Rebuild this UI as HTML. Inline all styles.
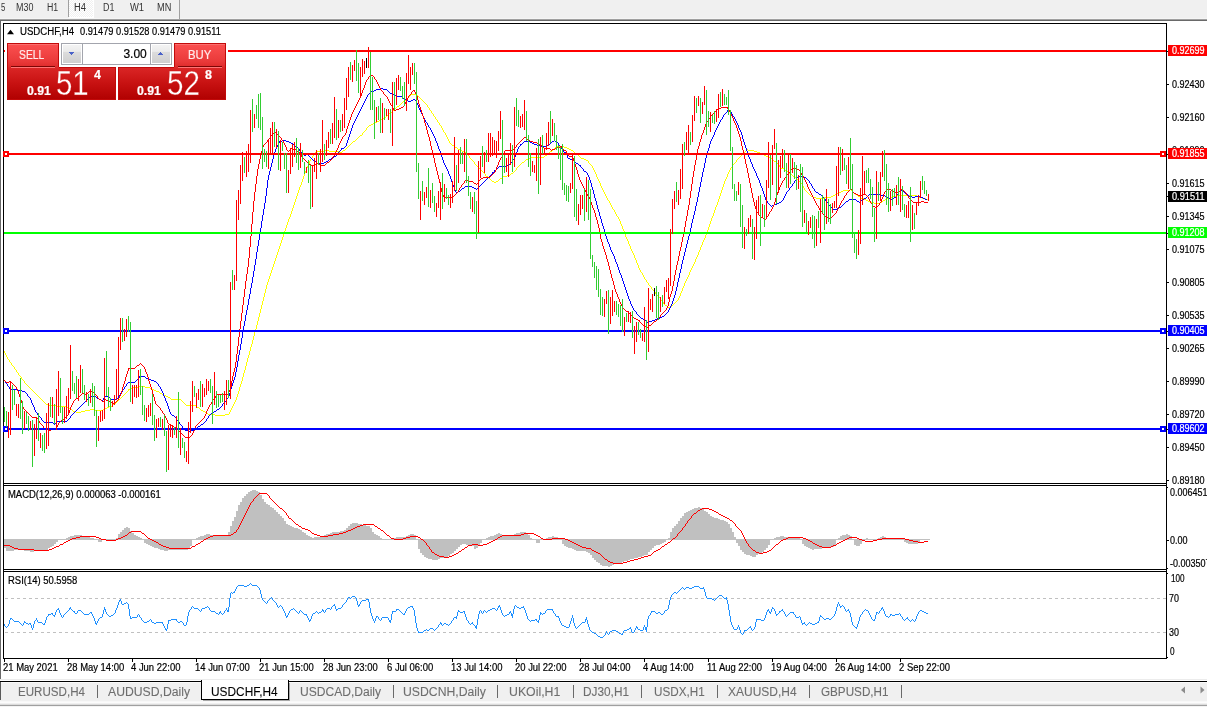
<!DOCTYPE html>
<html lang="en"><head><meta charset="utf-8"><title>USDCHF,H4</title>
<style>
html,body{margin:0;padding:0;background:#fff;}
body{width:1207px;height:707px;overflow:hidden;position:relative;font-family:"Liberation Sans",sans-serif;}
.t{position:absolute;white-space:pre;display:block;transform-origin:0 0;-webkit-text-stroke:0.2px currentColor;}
.b{position:absolute;}
svg{position:absolute;left:0;top:0;}
.big{-webkit-text-stroke:0.35px #cf1c1c;}
#tabs .t{-webkit-text-stroke:0.1px currentColor;}
</style></head><body>

<div id="toolbar">
<div class="b" style="left:0px;top:0px;width:1207px;height:18px;background:#f0f0f0;"></div>
<div class="b" style="left:0px;top:18px;width:1207px;height:1px;background:#f5f5f5;"></div>
<div class="b" style="left:0px;top:19px;width:1207px;height:1px;background:#a0a0a0;"></div>
<div class="b" style="left:0px;top:20px;width:1207px;height:1px;background:#696969;"></div>
<div class="b" style="left:69px;top:0px;width:25px;height:18px;background:#fff;"></div>
<div class="b" style="left:69px;top:0px;width:24px;height:17px;background:repeating-conic-gradient(#ffffff 0% 25%, #f0f0f0 0% 50%) 0 0/2px 2px;"></div>
<div class="b" style="left:68px;top:0px;width:1px;height:17px;background:#a0a0a0;"></div>
<div class="b" style="left:179px;top:0px;width:1px;height:19px;background:#a0a0a0;"></div>
<span class="t " style="left:0.70px;top:3px;font-size:10px;line-height:10px;color:#333;transform:scaleX(0.7857);-webkit-text-stroke:0;">5</span>
<span class="t " style="left:15.70px;top:3px;font-size:10px;line-height:10px;color:#333;transform:scaleX(0.8923);-webkit-text-stroke:0;">M30</span>
<span class="t " style="left:46.80px;top:3px;font-size:10px;line-height:10px;color:#333;transform:scaleX(0.8750);-webkit-text-stroke:0;">H1</span>
<span class="t " style="left:73.70px;top:3px;font-size:10px;line-height:10px;color:#333;transform:scaleX(0.9375);-webkit-text-stroke:0;">H4</span>
<span class="t " style="left:102.80px;top:3px;font-size:10px;line-height:10px;color:#333;transform:scaleX(0.8906);-webkit-text-stroke:0;">D1</span>
<span class="t " style="left:130.20px;top:3px;font-size:10px;line-height:10px;color:#333;transform:scaleX(0.9400);-webkit-text-stroke:0;">W1</span>
<span class="t " style="left:156.90px;top:3px;font-size:10px;line-height:10px;color:#333;transform:scaleX(0.9167);-webkit-text-stroke:0;">MN</span>
</div>
<div class="b" style="left:0px;top:20px;width:1px;height:659px;background:#696969;"></div>
<svg id="chart" width="1207" height="707" viewBox="0 0 1207 707">
<path d="M4 351h1v2h-1zM5 353h1v2h-1zM6 355h1v2h-1zM7 357h1v2h-1zM8 359h1v1h-1zM9 360h1v2h-1zM10 362h1v1h-1zM11 363h1v2h-1zM12 365h1v1h-1zM13 366h1v1h-1zM14 367h1v2h-1zM15 369h1v1h-1zM16 370h1v2h-1zM17 372h1v1h-1zM18 373h1v2h-1zM19 375h1v1h-1zM20 376h1v1h-1zM21 377h1v2h-1zM22 379h1v1h-1zM23 380h1v1h-1zM24 381h1v2h-1zM25 383h1v1h-1zM26 384h1v1h-1zM27 385h1v1h-1zM28 386h1v1h-1zM29 387h1v1h-1zM30 388h1v1h-1zM31 389h1v1h-1zM32 390h1v1h-1zM33 391h1v1h-1zM34 392h1v1h-1zM35 393h1v1h-1zM36 394h1v1h-1zM37 395h1v1h-1zM38 396h1v1h-1zM39 397h1v1h-1zM40 398h1v1h-1zM41 399h1v1h-1zM42 400h1v1h-1zM43 401h1v1h-1zM44 402h1v1h-1zM45 403h1v1h-1zM46 404h2v1h-2zM48 405h9v1h-9zM57 406h9v1h-9zM66 407h3v1h-3zM69 408h1v1h-1zM70 409h2v1h-2zM72 410h1v1h-1zM73 411h3v1h-3zM76 412h5v1h-5zM81 411h4v1h-4zM85 410h5v1h-5zM90 409h5v1h-5zM95 410h8v1h-8zM103 409h2v1h-2zM105 408h2v1h-2zM107 407h2v1h-2zM109 406h3v1h-3zM112 405h1v1h-1zM113 404h1v1h-1zM114 403h2v1h-2zM116 402h1v1h-1zM117 401h1v1h-1zM118 400h1v1h-1zM119 399h1v1h-1zM120 398h1v1h-1zM121 397h1v1h-1zM122 396h1v1h-1zM123 395h1v1h-1zM124 394h1v1h-1zM125 393h1v1h-1zM126 392h1v1h-1zM127 391h1v1h-1zM128 389h1v2h-1zM129 389h1v1h-1zM130 388h3v1h-3zM133 387h5v1h-5zM138 386h7v1h-7zM145 387h5v1h-5zM150 388h2v1h-2zM152 389h2v1h-2zM154 390h2v1h-2zM156 391h3v1h-3zM159 392h1v1h-1zM160 393h2v1h-2zM162 394h2v1h-2zM164 395h2v1h-2zM166 396h2v1h-2zM168 397h2v1h-2zM170 398h1v1h-1zM171 399h10v1h-10zM181 400h1v1h-1zM182 401h1v1h-1zM183 402h1v1h-1zM184 403h1v1h-1zM185 404h1v1h-1zM186 405h10v1h-10zM196 406h1v1h-1zM197 407h2v1h-2zM199 408h1v1h-1zM200 409h1v1h-1zM201 410h2v1h-2zM203 411h2v1h-2zM205 412h2v1h-2zM207 413h1v1h-1zM208 414h7v1h-7zM215 415h10v1h-10zM225 414h4v1h-4zM229 412h1v2h-1zM230 410h1v2h-1zM231 408h1v2h-1zM232 406h1v2h-1zM233 404h1v2h-1zM234 402h1v2h-1zM235 400h1v2h-1zM236 397h1v3h-1zM237 394h1v3h-1zM238 391h1v3h-1zM239 387h1v4h-1zM240 384h1v3h-1zM241 381h1v3h-1zM242 377h1v4h-1zM243 373h1v4h-1zM244 370h1v3h-1zM245 366h1v4h-1zM246 362h1v4h-1zM247 358h1v4h-1zM248 355h1v3h-1zM249 351h1v4h-1zM250 347h1v4h-1zM251 344h1v3h-1zM252 340h1v4h-1zM253 336h1v4h-1zM254 332h1v4h-1zM255 329h1v3h-1zM256 325h1v4h-1zM257 321h1v4h-1zM258 317h1v4h-1zM259 313h1v4h-1zM260 309h1v4h-1zM261 305h1v4h-1zM262 301h1v4h-1zM263 297h1v4h-1zM264 293h1v4h-1zM265 289h1v4h-1zM266 285h1v4h-1zM267 282h1v3h-1zM268 279h1v3h-1zM269 276h1v3h-1zM270 273h1v3h-1zM271 270h1v3h-1zM272 267h1v3h-1zM273 264h1v3h-1zM274 261h1v3h-1zM275 258h1v3h-1zM276 255h1v3h-1zM277 252h1v3h-1zM278 249h1v3h-1zM279 246h1v3h-1zM280 243h1v3h-1zM281 240h1v3h-1zM282 237h1v3h-1zM283 234h1v3h-1zM284 231h1v3h-1zM285 228h1v3h-1zM286 225h1v3h-1zM287 222h1v3h-1zM288 219h1v3h-1zM289 217h1v2h-1zM290 214h1v3h-1zM291 211h1v3h-1zM292 208h1v3h-1zM293 205h1v3h-1zM294 202h1v3h-1zM295 199h1v3h-1zM296 196h1v3h-1zM297 193h1v3h-1zM298 190h1v3h-1zM299 187h1v3h-1zM300 185h1v2h-1zM301 182h1v3h-1zM302 179h1v3h-1zM303 176h1v3h-1zM304 173h1v3h-1zM305 171h1v2h-1zM306 168h1v3h-1zM307 166h1v2h-1zM308 164h1v2h-1zM309 161h1v3h-1zM310 159h1v2h-1zM311 158h1v1h-1zM312 156h1v2h-1zM313 155h1v1h-1zM314 154h1v1h-1zM315 152h1v2h-1zM316 152h1v1h-1zM317 151h7v1h-7zM324 150h5v1h-5zM329 151h10v1h-10zM339 152h3v1h-3zM342 151h1v1h-1zM343 150h2v1h-2zM345 149h1v1h-1zM346 148h1v1h-1zM347 147h1v1h-1zM348 146h1v1h-1zM349 145h1v1h-1zM350 144h1v1h-1zM351 143h1v1h-1zM352 142h1v1h-1zM353 141h2v1h-2zM355 140h1v1h-1zM356 139h1v1h-1zM357 138h1v1h-1zM358 137h1v1h-1zM359 136h1v1h-1zM360 135h2v1h-2zM362 133h1v2h-1zM363 132h1v1h-1zM364 131h1v1h-1zM365 130h1v1h-1zM366 128h1v2h-1zM367 127h1v1h-1zM368 126h1v1h-1zM369 125h2v1h-2zM371 124h2v1h-2zM373 123h2v1h-2zM375 122h2v1h-2zM377 121h2v1h-2zM379 120h2v1h-2zM381 119h1v1h-1zM382 118h2v1h-2zM384 117h2v1h-2zM386 116h1v1h-1zM387 115h1v1h-1zM388 114h1v1h-1zM389 113h1v1h-1zM390 112h2v1h-2zM392 111h1v1h-1zM393 110h1v1h-1zM394 109h1v1h-1zM395 108h1v1h-1zM396 107h1v1h-1zM397 106h2v1h-2zM399 105h1v1h-1zM400 104h1v1h-1zM401 103h1v1h-1zM402 102h1v1h-1zM403 101h2v1h-2zM405 100h1v1h-1zM406 99h1v1h-1zM407 98h1v1h-1zM408 97h1v1h-1zM409 96h1v1h-1zM410 95h1v1h-1zM411 94h6v1h-6zM417 95h1v1h-1zM418 96h1v1h-1zM419 97h1v1h-1zM420 98h1v1h-1zM421 99h1v1h-1zM422 100h1v1h-1zM423 101h1v1h-1zM424 102h1v1h-1zM425 103h1v1h-1zM426 104h1v1h-1zM427 105h1v2h-1zM428 107h1v1h-1zM429 108h1v2h-1zM430 110h1v1h-1zM431 111h1v2h-1zM432 113h1v1h-1zM433 114h1v2h-1zM434 116h1v1h-1zM435 117h1v2h-1zM436 119h1v1h-1zM437 120h1v2h-1zM438 122h1v1h-1zM439 123h1v2h-1zM440 125h1v1h-1zM441 126h1v2h-1zM442 128h1v2h-1zM443 130h1v2h-1zM444 132h1v1h-1zM445 133h1v2h-1zM446 135h1v2h-1zM447 137h1v2h-1zM448 139h1v2h-1zM449 141h1v2h-1zM450 143h1v1h-1zM451 144h1v1h-1zM452 145h2v1h-2zM454 146h1v1h-1zM455 147h2v1h-2zM457 148h1v1h-1zM458 149h2v1h-2zM460 150h2v1h-2zM462 151h2v1h-2zM464 152h2v1h-2zM466 153h1v1h-1zM467 154h1v1h-1zM468 155h1v1h-1zM469 156h1v2h-1zM470 158h1v1h-1zM471 159h1v1h-1zM472 160h1v1h-1zM473 161h1v1h-1zM474 162h1v2h-1zM475 164h1v1h-1zM476 165h1v1h-1zM477 166h1v1h-1zM478 167h1v1h-1zM479 168h1v1h-1zM480 169h1v1h-1zM481 170h1v1h-1zM482 171h1v1h-1zM483 172h1v1h-1zM484 173h1v1h-1zM485 174h1v2h-1zM486 176h2v1h-2zM488 177h1v1h-1zM489 178h1v1h-1zM490 179h1v1h-1zM491 180h1v1h-1zM492 181h2v1h-2zM494 182h2v1h-2zM496 181h2v1h-2zM498 180h1v1h-1zM499 179h1v1h-1zM500 178h2v1h-2zM502 177h1v1h-1zM503 176h4v1h-4zM507 175h3v1h-3zM510 174h1v1h-1zM511 173h2v1h-2zM513 172h1v1h-1zM514 171h1v1h-1zM515 170h1v1h-1zM516 168h1v2h-1zM517 167h1v1h-1zM518 166h1v1h-1zM519 165h1v1h-1zM520 164h1v1h-1zM521 163h1v1h-1zM522 162h2v1h-2zM524 161h1v1h-1zM525 160h1v1h-1zM526 159h2v1h-2zM528 158h2v1h-2zM530 157h14v1h-14zM544 156h1v1h-1zM545 155h2v1h-2zM547 154h1v1h-1zM548 153h1v1h-1zM549 152h1v1h-1zM550 151h2v1h-2zM552 150h1v1h-1zM553 149h1v1h-1zM554 148h1v1h-1zM555 147h2v1h-2zM557 146h7v1h-7zM564 147h3v1h-3zM567 148h2v1h-2zM569 149h2v1h-2zM571 150h2v1h-2zM573 151h1v1h-1zM574 152h1v1h-1zM575 153h1v1h-1zM576 154h2v1h-2zM578 155h1v1h-1zM579 156h1v1h-1zM580 157h1v1h-1zM581 158h3v1h-3zM584 159h2v1h-2zM586 160h2v1h-2zM588 161h1v2h-1zM589 163h1v1h-1zM590 164h1v1h-1zM591 165h1v1h-1zM592 166h1v2h-1zM593 168h1v2h-1zM594 170h1v2h-1zM595 172h1v2h-1zM596 174h1v3h-1zM597 177h1v2h-1zM598 179h1v2h-1zM599 181h1v2h-1zM600 183h1v3h-1zM601 186h1v2h-1zM602 188h1v2h-1zM603 190h1v2h-1zM604 192h1v2h-1zM605 194h1v2h-1zM606 196h1v2h-1zM607 198h1v2h-1zM608 200h1v1h-1zM609 201h1v2h-1zM610 203h1v2h-1zM611 205h1v2h-1zM612 207h1v2h-1zM613 209h1v1h-1zM614 210h1v2h-1zM615 212h1v2h-1zM616 214h1v2h-1zM617 216h1v1h-1zM618 217h1v2h-1zM619 219h1v2h-1zM620 221h1v3h-1zM621 224h1v2h-1zM622 226h1v3h-1zM623 229h1v2h-1zM624 231h1v3h-1zM625 234h1v3h-1zM626 237h1v2h-1zM627 239h1v2h-1zM628 241h1v3h-1zM629 244h1v2h-1zM630 246h1v3h-1zM631 249h1v2h-1zM632 251h1v2h-1zM633 253h1v2h-1zM634 255h1v3h-1zM635 258h1v2h-1zM636 260h1v3h-1zM637 263h1v2h-1zM638 265h1v3h-1zM639 268h1v2h-1zM640 270h1v2h-1zM641 272h1v1h-1zM642 273h1v2h-1zM643 275h1v2h-1zM644 277h1v2h-1zM645 279h1v1h-1zM646 280h1v2h-1zM647 282h1v1h-1zM648 283h1v2h-1zM649 285h1v1h-1zM650 286h1v1h-1zM651 287h1v2h-1zM652 289h1v1h-1zM653 290h1v1h-1zM654 291h1v1h-1zM655 292h1v2h-1zM656 294h1v1h-1zM657 295h1v1h-1zM658 296h1v1h-1zM659 297h1v1h-1zM660 298h1v2h-1zM661 300h1v1h-1zM662 301h1v1h-1zM663 302h1v2h-1zM664 304h1v1h-1zM665 305h2v1h-2zM667 306h1v1h-1zM668 307h3v1h-3zM671 306h1v1h-1zM672 305h1v1h-1zM673 304h1v1h-1zM674 303h1v1h-1zM675 302h1v1h-1zM676 301h1v1h-1zM677 300h1v1h-1zM678 298h1v2h-1zM679 296h1v2h-1zM680 293h1v3h-1zM681 291h1v2h-1zM682 288h1v3h-1zM683 286h1v2h-1zM684 283h1v3h-1zM685 281h1v2h-1zM686 279h1v2h-1zM687 277h1v2h-1zM688 275h1v2h-1zM689 272h1v3h-1zM690 270h1v2h-1zM691 268h1v2h-1zM692 266h1v2h-1zM693 264h1v2h-1zM694 262h1v2h-1zM695 259h1v3h-1zM696 257h1v2h-1zM697 255h1v2h-1zM698 252h1v3h-1zM699 250h1v2h-1zM700 247h1v3h-1zM701 245h1v2h-1zM702 242h1v3h-1zM703 240h1v2h-1zM704 238h1v2h-1zM705 235h1v3h-1zM706 232h1v3h-1zM707 230h1v2h-1zM708 227h1v3h-1zM709 224h1v3h-1zM710 221h1v3h-1zM711 218h1v3h-1zM712 216h1v2h-1zM713 213h1v3h-1zM714 210h1v3h-1zM715 207h1v3h-1zM716 205h1v2h-1zM717 202h1v3h-1zM718 199h1v3h-1zM719 196h1v3h-1zM720 193h1v3h-1zM721 190h1v3h-1zM722 187h1v3h-1zM723 184h1v3h-1zM724 181h1v3h-1zM725 179h1v2h-1zM726 177h1v2h-1zM727 174h1v3h-1zM728 172h1v2h-1zM729 170h1v2h-1zM730 168h1v2h-1zM731 167h1v1h-1zM732 165h1v2h-1zM733 164h1v1h-1zM734 163h1v1h-1zM735 162h1v1h-1zM736 160h1v2h-1zM737 159h1v1h-1zM738 158h1v1h-1zM739 157h1v1h-1zM740 156h1v1h-1zM741 154h1v2h-1zM742 153h2v1h-2zM744 152h1v1h-1zM745 151h1v1h-1zM746 150h1v1h-1zM747 149h1v1h-1zM748 150h6v1h-6zM754 151h3v1h-3zM757 152h3v1h-3zM760 153h2v1h-2zM762 154h2v1h-2zM764 155h2v1h-2zM766 156h2v1h-2zM768 157h3v1h-3zM771 158h1v1h-1zM772 159h1v1h-1zM773 160h1v1h-1zM774 161h2v1h-2zM776 161h1v2h-1zM777 163h1v1h-1zM778 164h1v1h-1zM779 165h1v2h-1zM780 167h1v1h-1zM781 168h3v1h-3zM784 169h1v1h-1zM785 170h2v1h-2zM787 171h1v1h-1zM788 172h1v1h-1zM789 173h2v1h-2zM791 174h1v1h-1zM792 175h1v1h-1zM793 176h2v1h-2zM795 177h1v1h-1zM796 178h1v1h-1zM797 179h1v1h-1zM798 180h1v1h-1zM799 181h1v1h-1zM800 182h1v1h-1zM801 183h1v1h-1zM802 184h1v2h-1zM803 186h1v2h-1zM804 188h1v2h-1zM805 190h1v1h-1zM806 191h1v1h-1zM807 192h1v1h-1zM808 193h1v1h-1zM809 194h1v1h-1zM810 195h1v1h-1zM811 196h2v1h-2zM813 197h3v1h-3zM816 198h8v1h-8zM824 197h7v1h-7zM831 196h2v1h-2zM833 195h2v1h-2zM835 194h2v1h-2zM837 193h2v1h-2zM839 192h2v1h-2zM841 191h2v1h-2zM843 190h7v1h-7zM850 189h1v1h-1zM851 190h1v1h-1zM852 191h1v1h-1zM853 192h1v1h-1zM854 193h1v1h-1zM855 194h2v1h-2zM857 195h1v1h-1zM858 196h2v1h-2zM860 197h1v1h-1zM861 198h3v1h-3zM864 199h2v1h-2zM866 200h2v1h-2zM868 201h3v1h-3zM871 202h3v1h-3zM874 203h6v1h-6zM880 202h2v1h-2zM882 201h1v1h-1zM883 200h2v1h-2zM885 199h2v1h-2zM887 198h3v1h-3zM890 197h3v1h-3zM893 196h4v1h-4zM897 195h20v1h-20zM917 196h2v1h-2zM919 197h3v1h-3zM922 198h4v1h-4zM926 199h2v1h-2z" fill="#ffff00" shape-rendering="crispEdges"/>
<path d="M4 380h1v1h-1zM5 381h1v2h-1zM6 383h1v1h-1zM7 384h1v2h-1zM8 386h1v1h-1zM9 387h1v2h-1zM10 389h8v1h-8zM18 390h4v1h-4zM22 391h3v1h-3zM25 392h1v1h-1zM26 393h1v1h-1zM27 394h1v2h-1zM28 396h1v1h-1zM29 397h1v1h-1zM30 398h1v2h-1zM31 400h1v3h-1zM32 403h1v2h-1zM33 405h1v2h-1zM34 407h1v3h-1zM35 410h1v2h-1zM36 412h1v1h-1zM37 413h1v2h-1zM38 415h1v1h-1zM39 416h1v1h-1zM40 417h1v1h-1zM41 418h1v2h-1zM42 420h1v1h-1zM43 421h1v1h-1zM44 422h9v1h-9zM53 423h1v1h-1zM54 424h1v1h-1zM55 423h1v1h-1zM56 422h1v1h-1zM57 421h10v1h-10zM67 420h1v1h-1zM68 419h1v1h-1zM69 418h1v1h-1zM70 416h1v2h-1zM71 415h1v1h-1zM72 414h1v1h-1zM73 413h1v1h-1zM74 412h1v1h-1zM75 411h1v1h-1zM76 410h1v1h-1zM77 409h1v1h-1zM78 408h1v1h-1zM79 407h1v1h-1zM80 406h1v1h-1zM81 405h1v1h-1zM82 404h1v1h-1zM83 403h1v1h-1zM84 402h1v1h-1zM85 401h1v1h-1zM86 400h1v1h-1zM87 399h1v1h-1zM88 398h1v1h-1zM89 397h1v1h-1zM90 396h6v1h-6zM96 397h1v1h-1zM97 398h2v1h-2zM99 399h2v1h-2zM101 400h2v1h-2zM103 398h1v2h-1zM104 397h1v1h-1zM105 396h3v1h-3zM108 397h2v1h-2zM110 398h1v1h-1zM111 399h6v1h-6zM117 398h1v1h-1zM118 396h1v2h-1zM119 395h1v1h-1zM120 393h1v2h-1zM121 392h1v1h-1zM122 390h1v2h-1zM123 389h1v1h-1zM124 387h1v2h-1zM125 386h1v1h-1zM126 384h1v2h-1zM127 383h1v1h-1zM128 382h7v1h-7zM135 381h1v1h-1zM136 380h1v1h-1zM137 379h1v1h-1zM138 378h1v1h-1zM139 376h1v2h-1zM140 376h5v1h-5zM145 377h1v1h-1zM146 378h2v1h-2zM148 379h3v1h-3zM151 380h3v1h-3zM154 381h2v1h-2zM156 382h1v1h-1zM157 383h1v1h-1zM158 384h1v2h-1zM159 386h1v1h-1zM160 387h1v2h-1zM161 389h1v2h-1zM162 391h1v2h-1zM163 393h1v3h-1zM164 396h1v2h-1zM165 398h1v3h-1zM166 401h1v2h-1zM167 403h1v3h-1zM168 406h1v3h-1zM169 409h1v3h-1zM170 412h1v2h-1zM171 414h1v1h-1zM172 415h2v1h-2zM174 416h1v1h-1zM175 417h1v1h-1zM176 418h1v2h-1zM177 420h1v1h-1zM178 421h1v1h-1zM179 422h1v2h-1zM180 424h1v1h-1zM181 425h1v1h-1zM182 426h1v2h-1zM183 428h1v1h-1zM184 429h1v1h-1zM185 430h3v1h-3zM188 431h3v1h-3zM191 430h3v1h-3zM194 429h1v1h-1zM195 428h2v1h-2zM197 427h1v1h-1zM198 426h2v1h-2zM200 425h1v1h-1zM201 424h2v1h-2zM203 423h1v1h-1zM204 422h1v1h-1zM205 421h1v1h-1zM206 419h1v2h-1zM207 418h1v1h-1zM208 416h1v2h-1zM209 415h1v1h-1zM210 414h1v1h-1zM211 413h1v1h-1zM212 412h2v1h-2zM214 411h2v1h-2zM216 410h1v1h-1zM217 409h2v1h-2zM219 408h1v1h-1zM220 407h1v1h-1zM221 406h1v1h-1zM222 404h1v2h-1zM223 403h1v1h-1zM224 402h1v1h-1zM225 401h1v1h-1zM226 399h1v2h-1zM227 398h1v1h-1zM228 396h1v2h-1zM229 393h1v3h-1zM230 389h1v4h-1zM231 386h1v3h-1zM232 383h1v3h-1zM233 380h1v3h-1zM234 377h1v3h-1zM235 372h1v5h-1zM236 367h1v5h-1zM237 361h1v6h-1zM238 355h1v6h-1zM239 350h1v5h-1zM240 344h1v6h-1zM241 338h1v6h-1zM242 332h1v6h-1zM243 326h1v6h-1zM244 321h1v5h-1zM245 315h1v6h-1zM246 310h1v5h-1zM247 305h1v5h-1zM248 299h1v6h-1zM249 294h1v5h-1zM250 288h1v6h-1zM251 283h1v5h-1zM252 277h1v6h-1zM253 271h1v6h-1zM254 265h1v6h-1zM255 259h1v6h-1zM256 252h1v7h-1zM257 246h1v6h-1zM258 240h1v6h-1zM259 234h1v6h-1zM260 228h1v6h-1zM261 221h1v7h-1zM262 215h1v6h-1zM263 209h1v6h-1zM264 203h1v6h-1zM265 196h1v7h-1zM266 188h1v8h-1zM267 180h1v8h-1zM268 175h1v5h-1zM269 171h1v4h-1zM270 167h1v4h-1zM271 163h1v4h-1zM272 159h1v4h-1zM273 155h1v4h-1zM274 152h1v3h-1zM275 149h1v3h-1zM276 147h1v2h-1zM277 145h1v2h-1zM278 143h1v2h-1zM279 141h1v2h-1zM280 141h2v1h-2zM282 140h4v1h-4zM286 141h3v1h-3zM289 142h2v1h-2zM291 143h2v1h-2zM293 144h1v1h-1zM294 145h1v1h-1zM295 146h2v1h-2zM297 147h1v1h-1zM298 148h1v1h-1zM299 149h1v2h-1zM300 151h1v1h-1zM301 152h1v1h-1zM302 153h1v1h-1zM303 154h1v1h-1zM304 155h2v1h-2zM306 154h2v1h-2zM308 155h1v1h-1zM309 156h1v1h-1zM310 157h1v1h-1zM311 158h1v1h-1zM312 159h1v1h-1zM313 160h1v1h-1zM314 161h2v1h-2zM316 162h1v1h-1zM317 163h7v1h-7zM324 162h2v1h-2zM326 161h2v1h-2zM328 160h1v1h-1zM329 159h2v1h-2zM331 158h2v1h-2zM333 157h1v1h-1zM334 156h2v1h-2zM336 155h1v1h-1zM337 154h1v1h-1zM338 152h1v2h-1zM339 151h1v1h-1zM340 150h1v1h-1zM341 148h1v2h-1zM342 148h2v1h-2zM344 147h1v1h-1zM345 146h1v1h-1zM346 143h1v3h-1zM347 140h1v3h-1zM348 137h1v3h-1zM349 134h1v3h-1zM350 131h1v3h-1zM351 128h1v3h-1zM352 125h1v3h-1zM353 123h1v2h-1zM354 121h1v2h-1zM355 119h1v2h-1zM356 117h1v2h-1zM357 115h1v2h-1zM358 113h1v2h-1zM359 111h1v2h-1zM360 109h1v2h-1zM361 107h1v2h-1zM362 105h1v2h-1zM363 103h1v2h-1zM364 101h1v2h-1zM365 99h1v2h-1zM366 97h1v2h-1zM367 95h1v2h-1zM368 94h1v1h-1zM369 93h1v1h-1zM370 92h1v1h-1zM371 91h3v1h-3zM374 90h2v1h-2zM376 89h5v1h-5zM381 88h2v1h-2zM383 89h4v1h-4zM387 90h1v1h-1zM388 91h1v1h-1zM389 92h1v1h-1zM390 93h3v1h-3zM393 94h2v1h-2zM395 95h2v1h-2zM397 96h5v1h-5zM402 97h1v1h-1zM403 98h2v1h-2zM405 99h1v1h-1zM406 100h2v1h-2zM408 101h3v1h-3zM411 100h2v1h-2zM413 99h2v1h-2zM415 100h1v1h-1zM416 101h1v2h-1zM417 103h1v2h-1zM418 105h1v3h-1zM419 108h1v2h-1zM420 110h1v2h-1zM421 112h1v2h-1zM422 114h1v2h-1zM423 116h1v2h-1zM424 118h1v2h-1zM425 120h1v2h-1zM426 122h1v1h-1zM427 123h1v2h-1zM428 125h1v2h-1zM429 127h1v1h-1zM430 128h1v2h-1zM431 130h1v2h-1zM432 132h1v2h-1zM433 134h1v2h-1zM434 136h1v2h-1zM435 138h1v3h-1zM436 141h1v2h-1zM437 143h1v3h-1zM438 146h1v3h-1zM439 149h1v2h-1zM440 151h1v3h-1zM441 154h1v3h-1zM442 157h1v3h-1zM443 160h1v3h-1zM444 163h1v2h-1zM445 165h1v2h-1zM446 167h1v2h-1zM447 169h1v2h-1zM448 171h1v3h-1zM449 174h1v2h-1zM450 176h1v3h-1zM451 179h1v3h-1zM452 182h1v3h-1zM453 185h1v2h-1zM454 187h1v3h-1zM455 190h1v2h-1zM456 192h2v1h-2zM458 191h2v1h-2zM460 190h1v1h-1zM461 189h1v1h-1zM462 188h2v1h-2zM464 187h1v1h-1zM465 186h7v1h-7zM472 187h2v1h-2zM474 188h2v1h-2zM476 189h1v1h-1zM477 188h1v1h-1zM478 187h1v1h-1zM479 186h1v1h-1zM480 185h1v1h-1zM481 184h1v1h-1zM482 183h1v1h-1zM483 182h1v1h-1zM484 181h1v1h-1zM485 180h1v1h-1zM486 179h1v1h-1zM487 178h1v1h-1zM488 177h1v1h-1zM489 176h1v1h-1zM490 175h1v1h-1zM491 174h1v1h-1zM492 172h1v2h-1zM493 172h1v1h-1zM494 170h1v2h-1zM495 170h1v1h-1zM496 169h1v1h-1zM497 168h1v1h-1zM498 167h1v1h-1zM499 166h8v1h-8zM507 165h2v1h-2zM509 164h1v1h-1zM510 163h1v1h-1zM511 162h1v1h-1zM512 160h1v2h-1zM513 159h1v1h-1zM514 157h1v2h-1zM515 154h1v3h-1zM516 152h1v2h-1zM517 149h1v3h-1zM518 147h1v2h-1zM519 146h1v1h-1zM520 144h1v2h-1zM521 144h1v1h-1zM522 143h1v1h-1zM523 142h1v1h-1zM524 141h6v1h-6zM530 142h2v1h-2zM532 143h2v1h-2zM534 144h3v1h-3zM537 145h3v1h-3zM540 146h6v1h-6zM546 145h2v1h-2zM548 144h2v1h-2zM550 143h1v1h-1zM551 142h1v1h-1zM552 141h2v1h-2zM554 140h1v1h-1zM555 141h1v1h-1zM556 142h2v1h-2zM558 143h1v2h-1zM559 145h1v1h-1zM560 146h1v2h-1zM561 148h1v1h-1zM562 149h1v1h-1zM563 150h1v2h-1zM564 152h2v1h-2zM566 153h1v2h-1zM567 155h1v3h-1zM568 158h2v1h-2zM570 159h2v1h-2zM572 160h2v1h-2zM574 161h1v1h-1zM575 162h1v1h-1zM576 163h2v1h-2zM578 164h1v1h-1zM579 165h1v1h-1zM580 165h1v2h-1zM581 167h1v1h-1zM582 168h1v1h-1zM583 169h1v2h-1zM584 171h2v1h-2zM586 172h1v1h-1zM587 173h1v2h-1zM588 175h1v2h-1zM589 177h1v3h-1zM590 180h1v3h-1zM591 183h1v4h-1zM592 187h1v3h-1zM593 190h1v4h-1zM594 194h1v4h-1zM595 198h1v3h-1zM596 201h1v4h-1zM597 205h1v4h-1zM598 209h1v3h-1zM599 212h1v4h-1zM600 216h1v3h-1zM601 219h1v4h-1zM602 223h1v3h-1zM603 226h1v3h-1zM604 229h1v4h-1zM605 233h1v3h-1zM606 236h1v3h-1zM607 239h1v3h-1zM608 242h1v2h-1zM609 244h1v3h-1zM610 247h1v3h-1zM611 250h1v2h-1zM612 252h1v2h-1zM613 254h1v2h-1zM614 256h1v3h-1zM615 259h1v3h-1zM616 262h1v2h-1zM617 264h1v3h-1zM618 267h1v3h-1zM619 270h1v3h-1zM620 273h1v2h-1zM621 275h1v3h-1zM622 278h1v3h-1zM623 281h1v3h-1zM624 284h1v3h-1zM625 287h1v3h-1zM626 290h1v3h-1zM627 293h1v3h-1zM628 296h1v3h-1zM629 299h1v2h-1zM630 301h1v3h-1zM631 304h1v2h-1zM632 306h1v2h-1zM633 308h1v2h-1zM634 310h1v1h-1zM635 311h1v1h-1zM636 312h1v2h-1zM637 314h1v1h-1zM638 315h1v1h-1zM639 316h1v1h-1zM640 317h1v1h-1zM641 318h2v1h-2zM643 319h1v1h-1zM644 320h2v1h-2zM646 321h1v1h-1zM647 322h1v1h-1zM648 321h4v1h-4zM652 320h3v1h-3zM655 319h2v1h-2zM657 318h3v1h-3zM660 317h2v1h-2zM662 316h2v1h-2zM664 315h1v1h-1zM665 314h1v1h-1zM666 313h1v1h-1zM667 312h1v1h-1zM668 310h1v2h-1zM669 308h1v2h-1zM670 306h1v2h-1zM671 304h1v2h-1zM672 301h1v3h-1zM673 298h1v3h-1zM674 295h1v3h-1zM675 291h1v4h-1zM676 287h1v4h-1zM677 282h1v5h-1zM678 278h1v4h-1zM679 273h1v5h-1zM680 269h1v4h-1zM681 264h1v5h-1zM682 260h1v4h-1zM683 256h1v4h-1zM684 252h1v4h-1zM685 248h1v4h-1zM686 244h1v4h-1zM687 240h1v4h-1zM688 236h1v4h-1zM689 232h1v4h-1zM690 228h1v4h-1zM691 223h1v5h-1zM692 219h1v4h-1zM693 215h1v4h-1zM694 211h1v4h-1zM695 206h1v5h-1zM696 202h1v4h-1zM697 197h1v5h-1zM698 192h1v5h-1zM699 187h1v5h-1zM700 182h1v5h-1zM701 177h1v5h-1zM702 172h1v5h-1zM703 168h1v4h-1zM704 163h1v5h-1zM705 158h1v5h-1zM706 154h1v4h-1zM707 151h1v3h-1zM708 148h1v3h-1zM709 144h1v4h-1zM710 141h1v3h-1zM711 139h1v2h-1zM712 137h1v2h-1zM713 135h1v2h-1zM714 132h1v3h-1zM715 130h1v2h-1zM716 128h1v2h-1zM717 126h1v2h-1zM718 124h1v2h-1zM719 122h1v2h-1zM720 120h1v2h-1zM721 119h1v1h-1zM722 117h1v2h-1zM723 115h1v2h-1zM724 114h1v1h-1zM725 113h1v1h-1zM726 112h1v1h-1zM727 110h1v2h-1zM728 110h1v1h-1zM729 111h2v1h-2zM731 112h1v2h-1zM732 114h1v2h-1zM733 116h1v1h-1zM734 117h1v2h-1zM735 119h1v2h-1zM736 121h1v2h-1zM737 123h1v2h-1zM738 125h1v3h-1zM739 128h1v2h-1zM740 130h1v2h-1zM741 132h1v3h-1zM742 135h1v4h-1zM743 139h1v3h-1zM744 142h1v3h-1zM745 145h1v3h-1zM746 148h1v3h-1zM747 151h1v3h-1zM748 154h1v3h-1zM749 157h1v2h-1zM750 159h1v3h-1zM751 162h1v2h-1zM752 164h1v3h-1zM753 167h1v2h-1zM754 169h1v2h-1zM755 171h1v2h-1zM756 173h1v3h-1zM757 176h1v2h-1zM758 178h1v2h-1zM759 180h1v3h-1zM760 183h1v3h-1zM761 186h1v2h-1zM762 188h1v3h-1zM763 191h1v3h-1zM764 194h1v3h-1zM765 197h1v3h-1zM766 200h1v1h-1zM767 201h1v2h-1zM768 203h1v1h-1zM769 204h1v1h-1zM770 205h1v1h-1zM771 206h1v1h-1zM772 205h2v1h-2zM774 204h3v1h-3zM777 203h2v1h-2zM779 202h2v1h-2zM781 201h1v1h-1zM782 200h1v1h-1zM783 198h1v2h-1zM784 196h1v2h-1zM785 194h1v2h-1zM786 192h1v2h-1zM787 191h1v1h-1zM788 190h1v1h-1zM789 188h1v2h-1zM790 187h1v1h-1zM791 186h1v1h-1zM792 184h1v2h-1zM793 183h1v1h-1zM794 181h1v2h-1zM795 180h1v1h-1zM796 178h1v2h-1zM797 177h2v1h-2zM799 176h4v1h-4zM803 177h3v1h-3zM806 178h1v1h-1zM807 179h1v1h-1zM808 180h1v1h-1zM809 181h1v2h-1zM810 183h1v1h-1zM811 184h1v2h-1zM812 186h1v2h-1zM813 188h1v1h-1zM814 189h1v2h-1zM815 191h1v1h-1zM816 192h2v1h-2zM818 193h1v1h-1zM819 194h2v1h-2zM821 195h1v1h-1zM822 196h1v1h-1zM823 197h1v1h-1zM824 198h1v1h-1zM825 199h1v2h-1zM826 201h1v1h-1zM827 202h1v1h-1zM828 203h1v2h-1zM829 205h1v1h-1zM830 206h1v1h-1zM831 207h1v1h-1zM832 208h1v1h-1zM833 209h4v1h-4zM837 208h2v1h-2zM839 207h2v1h-2zM841 206h1v1h-1zM842 205h1v1h-1zM843 204h1v1h-1zM844 203h1v1h-1zM845 202h1v1h-1zM846 201h2v1h-2zM848 200h1v1h-1zM849 199h7v1h-7zM856 200h1v1h-1zM857 201h2v1h-2zM859 202h1v1h-1zM860 201h1v1h-1zM861 200h2v1h-2zM863 199h1v1h-1zM864 198h2v1h-2zM866 197h1v1h-1zM867 196h1v1h-1zM868 195h1v1h-1zM869 194h12v1h-12zM881 195h4v1h-4zM885 196h2v1h-2zM887 197h2v1h-2zM889 198h2v1h-2zM891 199h1v1h-1zM892 198h2v1h-2zM894 197h2v1h-2zM896 195h1v2h-1zM897 194h1v1h-1zM898 192h1v2h-1zM899 191h1v1h-1zM900 190h3v1h-3zM903 191h1v1h-1zM904 192h1v1h-1zM905 193h1v1h-1zM906 194h2v1h-2zM908 195h1v1h-1zM909 196h3v1h-3zM912 197h3v1h-3zM915 196h5v1h-5zM920 197h3v1h-3zM923 198h2v1h-2zM925 199h2v1h-2z" fill="#0000ff" shape-rendering="crispEdges"/>
<path d="M4 380h1v1h-1zM5 381h1v1h-1zM6 382h3v1h-3zM9 381h2v1h-2zM11 382h1v1h-1zM12 383h1v1h-1zM13 384h1v1h-1zM14 385h1v1h-1zM15 386h1v1h-1zM16 387h1v2h-1zM17 389h1v2h-1zM18 391h1v3h-1zM19 394h1v3h-1zM20 397h1v3h-1zM21 400h1v3h-1zM22 403h1v4h-1zM23 407h1v2h-1zM24 409h1v1h-1zM25 410h1v1h-1zM26 411h1v1h-1zM27 412h1v1h-1zM28 413h1v1h-1zM29 414h1v1h-1zM30 415h1v1h-1zM31 416h1v1h-1zM32 417h5v1h-5zM37 418h1v1h-1zM38 419h1v2h-1zM39 421h1v2h-1zM40 423h1v1h-1zM41 424h1v1h-1zM42 425h1v1h-1zM43 426h1v2h-1zM44 428h2v1h-2zM46 429h2v1h-2zM48 430h3v1h-3zM51 429h4v1h-4zM55 428h1v1h-1zM56 427h1v1h-1zM57 425h1v2h-1zM58 423h1v2h-1zM59 422h1v1h-1zM60 421h1v1h-1zM61 420h2v1h-2zM63 419h1v1h-1zM64 418h1v1h-1zM65 417h1v1h-1zM66 416h1v1h-1zM67 415h1v1h-1zM68 413h1v2h-1zM69 410h1v3h-1zM70 407h1v3h-1zM71 405h1v2h-1zM72 403h1v2h-1zM73 401h1v2h-1zM74 400h1v1h-1zM75 399h1v1h-1zM76 398h2v1h-2zM78 397h1v1h-1zM79 396h1v1h-1zM80 395h1v1h-1zM81 394h1v1h-1zM82 393h3v1h-3zM85 394h2v1h-2zM87 393h1v1h-1zM88 392h1v1h-1zM89 391h1v1h-1zM90 390h1v1h-1zM91 391h2v1h-2zM93 392h1v1h-1zM94 392h1v2h-1zM95 394h1v1h-1zM96 395h1v1h-1zM97 396h1v2h-1zM98 398h1v1h-1zM99 399h2v1h-2zM101 400h1v1h-1zM102 401h2v1h-2zM104 400h1v1h-1zM105 399h1v1h-1zM106 400h3v1h-3zM109 401h1v1h-1zM110 402h2v1h-2zM112 403h2v1h-2zM114 402h2v1h-2zM116 401h1v1h-1zM117 400h1v1h-1zM118 398h1v2h-1zM119 396h1v2h-1zM120 394h1v2h-1zM121 391h1v3h-1zM122 387h1v4h-1zM123 384h1v3h-1zM124 381h1v3h-1zM125 377h1v4h-1zM126 374h1v3h-1zM127 371h1v3h-1zM128 368h1v3h-1zM129 368h6v1h-6zM135 367h1v1h-1zM136 366h1v1h-1zM137 365h2v1h-2zM139 364h1v1h-1zM140 363h1v1h-1zM141 364h1v1h-1zM142 365h1v1h-1zM143 366h1v1h-1zM144 367h1v2h-1zM145 369h1v3h-1zM146 372h1v2h-1zM147 374h1v3h-1zM148 377h1v4h-1zM149 381h1v3h-1zM150 384h1v3h-1zM151 387h1v3h-1zM152 390h1v4h-1zM153 394h1v3h-1zM154 397h1v4h-1zM155 401h1v3h-1zM156 404h1v1h-1zM157 405h1v1h-1zM158 406h1v1h-1zM159 407h1v1h-1zM160 408h1v2h-1zM161 410h1v1h-1zM162 411h1v2h-1zM163 413h1v1h-1zM164 414h1v2h-1zM165 416h1v2h-1zM166 418h1v2h-1zM167 420h1v3h-1zM168 423h1v1h-1zM169 424h2v1h-2zM171 425h2v1h-2zM173 426h1v1h-1zM174 427h2v1h-2zM176 428h1v1h-1zM177 429h1v1h-1zM178 430h1v1h-1zM179 431h1v1h-1zM180 432h1v1h-1zM181 433h1v1h-1zM182 434h1v1h-1zM183 435h1v1h-1zM184 436h1v1h-1zM185 437h5v1h-5zM190 436h1v1h-1zM191 435h1v1h-1zM192 433h1v2h-1zM193 431h1v2h-1zM194 428h1v3h-1zM195 426h1v2h-1zM196 425h1v1h-1zM197 424h1v1h-1zM198 423h1v1h-1zM199 422h1v1h-1zM200 421h1v1h-1zM201 420h1v1h-1zM202 419h1v1h-1zM203 418h1v1h-1zM204 416h1v2h-1zM205 414h1v2h-1zM206 411h1v3h-1zM207 409h1v2h-1zM208 407h1v2h-1zM209 405h1v2h-1zM210 404h1v1h-1zM211 402h1v2h-1zM212 400h1v2h-1zM213 399h1v1h-1zM214 398h1v1h-1zM215 396h1v2h-1zM216 395h1v1h-1zM217 394h11v1h-11zM228 392h1v2h-1zM229 390h1v2h-1zM230 387h1v3h-1zM231 381h1v6h-1zM232 376h1v5h-1zM233 372h1v4h-1zM234 368h1v4h-1zM235 362h1v6h-1zM236 354h1v8h-1zM237 346h1v8h-1zM238 337h1v9h-1zM239 329h1v8h-1zM240 321h1v8h-1zM241 313h1v8h-1zM242 305h1v8h-1zM243 297h1v8h-1zM244 289h1v8h-1zM245 281h1v8h-1zM246 274h1v7h-1zM247 267h1v7h-1zM248 258h1v9h-1zM249 247h1v11h-1zM250 236h1v11h-1zM251 224h1v12h-1zM252 212h1v12h-1zM253 201h1v11h-1zM254 192h1v9h-1zM255 184h1v8h-1zM256 176h1v8h-1zM257 169h1v7h-1zM258 164h1v5h-1zM259 159h1v5h-1zM260 155h1v4h-1zM261 151h1v4h-1zM262 147h1v4h-1zM263 145h1v2h-1zM264 144h1v1h-1zM265 143h1v1h-1zM266 142h1v1h-1zM267 140h1v2h-1zM268 139h1v1h-1zM269 138h1v1h-1zM270 136h1v2h-1zM271 135h1v1h-1zM272 134h1v1h-1zM273 133h2v1h-2zM275 132h1v1h-1zM276 133h1v1h-1zM277 134h1v1h-1zM278 135h1v1h-1zM279 136h1v1h-1zM280 137h1v1h-1zM281 138h1v2h-1zM282 140h1v1h-1zM283 141h1v2h-1zM284 143h1v2h-1zM285 145h1v2h-1zM286 147h1v3h-1zM287 150h1v1h-1zM288 151h1v1h-1zM289 150h1v1h-1zM290 149h1v1h-1zM291 148h2v1h-2zM293 149h3v1h-3zM296 150h1v1h-1zM297 151h2v1h-2zM299 152h1v2h-1zM300 154h1v1h-1zM301 155h1v2h-1zM302 157h1v1h-1zM303 158h1v1h-1zM304 159h1v1h-1zM305 160h1v1h-1zM306 161h1v1h-1zM307 162h1v1h-1zM308 163h1v1h-1zM309 164h2v1h-2zM311 165h1v1h-1zM312 166h1v1h-1zM313 165h1v1h-1zM314 164h2v1h-2zM316 163h2v1h-2zM318 164h2v1h-2zM320 165h5v1h-5zM325 164h1v1h-1zM326 163h1v1h-1zM327 162h2v1h-2zM329 161h1v1h-1zM330 160h1v1h-1zM331 159h1v1h-1zM332 157h1v2h-1zM333 156h1v1h-1zM334 154h1v2h-1zM335 152h1v2h-1zM336 150h1v2h-1zM337 148h1v2h-1zM338 145h1v3h-1zM339 143h1v2h-1zM340 141h1v2h-1zM341 139h1v2h-1zM342 137h1v2h-1zM343 136h1v1h-1zM344 135h1v1h-1zM345 133h1v2h-1zM346 129h1v4h-1zM347 126h1v3h-1zM348 123h1v3h-1zM349 120h1v3h-1zM350 117h1v3h-1zM351 114h1v3h-1zM352 112h1v2h-1zM353 110h1v2h-1zM354 108h1v2h-1zM355 106h1v2h-1zM356 104h1v2h-1zM357 102h1v2h-1zM358 100h1v2h-1zM359 98h1v2h-1zM360 96h1v2h-1zM361 93h1v3h-1zM362 90h1v3h-1zM363 88h1v2h-1zM364 85h1v3h-1zM365 82h1v3h-1zM366 80h1v2h-1zM367 79h1v1h-1zM368 77h1v2h-1zM369 76h1v1h-1zM370 75h3v1h-3zM373 76h1v1h-1zM374 77h1v2h-1zM375 79h1v1h-1zM376 80h1v2h-1zM377 82h1v2h-1zM378 84h1v2h-1zM379 86h1v2h-1zM380 88h1v2h-1zM381 90h1v1h-1zM382 91h1v1h-1zM383 92h1v2h-1zM384 94h1v1h-1zM385 95h1v1h-1zM386 96h1v1h-1zM387 97h1v2h-1zM388 99h1v2h-1zM389 101h1v2h-1zM390 103h1v2h-1zM391 105h1v1h-1zM392 106h1v2h-1zM393 108h1v2h-1zM394 110h2v1h-2zM396 109h3v1h-3zM399 108h2v1h-2zM401 107h2v1h-2zM403 106h1v1h-1zM404 104h1v2h-1zM405 102h1v2h-1zM406 100h1v2h-1zM407 98h1v2h-1zM408 96h1v2h-1zM409 95h1v1h-1zM410 94h1v1h-1zM411 92h1v2h-1zM412 91h1v1h-1zM413 90h1v1h-1zM414 90h1v2h-1zM415 92h1v2h-1zM416 94h1v2h-1zM417 96h1v4h-1zM418 100h1v4h-1zM419 104h1v3h-1zM420 107h1v3h-1zM421 110h1v3h-1zM422 113h1v3h-1zM423 116h1v3h-1zM424 119h1v4h-1zM425 123h1v3h-1zM426 126h1v4h-1zM427 130h1v4h-1zM428 134h1v3h-1zM429 137h1v4h-1zM430 141h1v5h-1zM431 146h1v4h-1zM432 150h1v4h-1zM433 154h1v4h-1zM434 158h1v5h-1zM435 163h1v4h-1zM436 167h1v4h-1zM437 171h1v4h-1zM438 175h1v4h-1zM439 179h1v4h-1zM440 183h1v5h-1zM441 188h1v4h-1zM442 192h1v3h-1zM443 195h1v2h-1zM444 197h9v1h-9zM453 196h1v1h-1zM454 195h1v1h-1zM455 194h1v1h-1zM456 193h1v1h-1zM457 192h1v1h-1zM458 190h1v2h-1zM459 188h1v2h-1zM460 187h1v1h-1zM461 185h1v2h-1zM462 184h1v1h-1zM463 183h1v1h-1zM464 181h1v2h-1zM465 180h4v1h-4zM469 181h4v1h-4zM473 182h1v1h-1zM474 183h2v1h-2zM476 184h1v1h-1zM477 183h1v1h-1zM478 181h1v2h-1zM479 180h1v1h-1zM480 179h1v1h-1zM481 178h2v1h-2zM483 177h7v1h-7zM490 176h1v1h-1zM491 175h1v1h-1zM492 174h1v1h-1zM493 173h1v1h-1zM494 172h1v1h-1zM495 170h1v2h-1zM496 167h1v3h-1zM497 165h1v2h-1zM498 162h1v3h-1zM499 160h1v2h-1zM500 158h1v2h-1zM501 157h1v1h-1zM502 155h1v2h-1zM503 153h1v2h-1zM504 151h1v2h-1zM505 150h8v1h-8zM513 149h1v1h-1zM514 148h1v1h-1zM515 147h1v1h-1zM516 145h1v2h-1zM517 144h1v1h-1zM518 143h1v1h-1zM519 142h1v1h-1zM520 141h1v1h-1zM521 140h1v1h-1zM522 139h1v1h-1zM523 138h1v1h-1zM524 137h2v1h-2zM526 138h1v1h-1zM527 139h1v1h-1zM528 140h2v1h-2zM530 141h3v1h-3zM533 142h4v1h-4zM537 143h2v1h-2zM539 144h1v1h-1zM540 145h2v1h-2zM542 146h1v1h-1zM543 147h1v1h-1zM544 148h6v1h-6zM550 149h1v1h-1zM551 150h1v1h-1zM552 149h3v1h-3zM555 148h2v1h-2zM557 147h3v1h-3zM560 146h1v1h-1zM561 146h1v2h-1zM562 148h1v1h-1zM563 149h1v1h-1zM564 150h2v1h-2zM566 151h1v2h-1zM567 153h1v2h-1zM568 155h1v1h-1zM569 156h3v1h-3zM572 157h1v1h-1zM573 158h1v3h-1zM574 161h1v3h-1zM575 164h1v3h-1zM576 167h1v3h-1zM577 170h1v4h-1zM578 174h1v3h-1zM579 177h1v3h-1zM580 180h1v2h-1zM581 182h1v2h-1zM582 184h1v2h-1zM583 186h1v2h-1zM584 188h1v2h-1zM585 190h1v2h-1zM586 192h1v2h-1zM587 194h1v2h-1zM588 196h1v1h-1zM589 197h1v2h-1zM590 199h1v3h-1zM591 202h1v3h-1zM592 205h1v3h-1zM593 208h1v2h-1zM594 210h1v3h-1zM595 213h1v4h-1zM596 217h1v3h-1zM597 220h1v4h-1zM598 224h1v4h-1zM599 228h1v6h-1zM600 234h1v5h-1zM601 239h1v3h-1zM602 242h1v4h-1zM603 246h1v3h-1zM604 249h1v3h-1zM605 252h1v3h-1zM606 255h1v4h-1zM607 259h1v3h-1zM608 262h1v4h-1zM609 266h1v4h-1zM610 270h1v4h-1zM611 274h1v4h-1zM612 278h1v3h-1zM613 281h1v4h-1zM614 285h1v4h-1zM615 289h1v3h-1zM616 292h1v2h-1zM617 294h1v3h-1zM618 297h1v2h-1zM619 299h1v3h-1zM620 302h1v2h-1zM621 304h1v2h-1zM622 306h1v2h-1zM623 308h1v1h-1zM624 309h1v1h-1zM625 310h1v1h-1zM626 311h2v1h-2zM628 312h1v1h-1zM629 313h1v1h-1zM630 314h1v1h-1zM631 315h1v1h-1zM632 316h1v1h-1zM633 317h1v1h-1zM634 318h2v1h-2zM636 319h2v1h-2zM638 320h1v1h-1zM639 320h1v2h-1zM640 322h1v1h-1zM641 323h1v1h-1zM642 324h1v1h-1zM643 325h1v1h-1zM644 326h3v1h-3zM647 327h1v1h-1zM648 326h1v1h-1zM649 325h2v1h-2zM651 324h1v1h-1zM652 323h1v1h-1zM653 322h1v1h-1zM654 321h2v1h-2zM656 320h1v1h-1zM657 319h1v1h-1zM658 318h1v1h-1zM659 317h1v1h-1zM660 315h1v2h-1zM661 314h1v1h-1zM662 313h1v1h-1zM663 312h1v1h-1zM664 311h1v1h-1zM665 310h1v1h-1zM666 308h1v2h-1zM667 306h1v2h-1zM668 302h1v4h-1zM669 297h1v5h-1zM670 294h1v3h-1zM671 291h1v3h-1zM672 286h1v5h-1zM673 281h1v5h-1zM674 275h1v6h-1zM675 270h1v5h-1zM676 265h1v5h-1zM677 261h1v4h-1zM678 256h1v5h-1zM679 251h1v5h-1zM680 247h1v4h-1zM681 242h1v5h-1zM682 237h1v5h-1zM683 232h1v5h-1zM684 227h1v5h-1zM685 221h1v6h-1zM686 216h1v5h-1zM687 210h1v6h-1zM688 205h1v5h-1zM689 198h1v7h-1zM690 191h1v7h-1zM691 184h1v7h-1zM692 177h1v7h-1zM693 171h1v6h-1zM694 165h1v6h-1zM695 160h1v5h-1zM696 154h1v6h-1zM697 149h1v5h-1zM698 146h1v3h-1zM699 142h1v4h-1zM700 139h1v3h-1zM701 135h1v4h-1zM702 133h1v2h-1zM703 130h1v3h-1zM704 127h1v3h-1zM705 124h1v3h-1zM706 122h1v2h-1zM707 121h1v1h-1zM708 119h1v2h-1zM709 118h1v1h-1zM710 116h1v2h-1zM711 115h1v1h-1zM712 114h1v1h-1zM713 113h1v1h-1zM714 112h1v1h-1zM715 111h1v1h-1zM716 110h1v1h-1zM717 109h2v1h-2zM719 108h2v1h-2zM721 107h6v1h-6zM727 107h1v2h-1zM728 109h1v1h-1zM729 110h1v2h-1zM730 112h1v2h-1zM731 114h1v2h-1zM732 116h1v2h-1zM733 118h1v3h-1zM734 121h1v2h-1zM735 123h1v2h-1zM736 125h1v3h-1zM737 128h1v3h-1zM738 131h1v3h-1zM739 134h1v3h-1zM740 137h1v4h-1zM741 141h1v5h-1zM742 146h1v4h-1zM743 150h1v5h-1zM744 155h1v4h-1zM745 159h1v5h-1zM746 164h1v4h-1zM747 168h1v5h-1zM748 173h1v5h-1zM749 178h1v5h-1zM750 183h1v5h-1zM751 188h1v5h-1zM752 193h1v5h-1zM753 198h1v4h-1zM754 202h1v4h-1zM755 206h1v3h-1zM756 209h1v3h-1zM757 212h1v1h-1zM758 213h1v2h-1zM759 215h1v1h-1zM760 216h1v1h-1zM761 217h2v1h-2zM763 218h1v1h-1zM764 219h2v1h-2zM766 217h1v2h-1zM767 216h1v1h-1zM768 214h1v2h-1zM769 212h1v2h-1zM770 211h1v1h-1zM771 209h1v2h-1zM772 207h1v2h-1zM773 205h1v2h-1zM774 202h1v3h-1zM775 198h1v4h-1zM776 195h1v3h-1zM777 192h1v3h-1zM778 190h1v2h-1zM779 187h1v3h-1zM780 185h1v2h-1zM781 183h1v2h-1zM782 181h1v2h-1zM783 180h1v1h-1zM784 178h1v2h-1zM785 177h1v1h-1zM786 175h1v2h-1zM787 174h1v1h-1zM788 173h1v1h-1zM789 172h1v1h-1zM790 170h1v2h-1zM791 169h1v1h-1zM792 168h5v1h-5zM797 169h2v1h-2zM799 170h1v1h-1zM800 171h1v2h-1zM801 173h1v2h-1zM802 175h1v1h-1zM803 176h1v2h-1zM804 178h1v2h-1zM805 180h1v2h-1zM806 182h1v2h-1zM807 184h1v3h-1zM808 187h1v2h-1zM809 189h1v2h-1zM810 191h1v2h-1zM811 193h1v2h-1zM812 195h1v2h-1zM813 197h1v2h-1zM814 199h1v2h-1zM815 201h1v2h-1zM816 203h1v2h-1zM817 205h1v1h-1zM818 206h1v2h-1zM819 208h1v2h-1zM820 210h1v1h-1zM821 211h1v1h-1zM822 212h1v2h-1zM823 214h1v1h-1zM824 215h1v1h-1zM825 216h1v1h-1zM826 217h3v1h-3zM829 218h2v1h-2zM831 217h1v1h-1zM832 216h1v1h-1zM833 215h1v1h-1zM834 214h1v1h-1zM835 213h1v1h-1zM836 211h1v2h-1zM837 209h1v2h-1zM838 207h1v2h-1zM839 205h1v2h-1zM840 203h1v2h-1zM841 201h1v2h-1zM842 200h1v1h-1zM843 198h1v2h-1zM844 196h1v2h-1zM845 195h1v1h-1zM846 193h1v2h-1zM847 192h1v1h-1zM848 191h1v1h-1zM849 190h1v1h-1zM850 189h2v1h-2zM852 190h1v2h-1zM853 192h1v1h-1zM854 193h2v1h-2zM856 194h2v1h-2zM858 195h2v1h-2zM860 196h1v1h-1zM861 195h2v1h-2zM863 194h3v1h-3zM866 195h1v1h-1zM867 196h1v1h-1zM868 197h1v2h-1zM869 199h1v2h-1zM870 201h1v2h-1zM871 203h1v1h-1zM872 204h1v2h-1zM873 206h2v1h-2zM875 207h2v1h-2zM877 206h1v1h-1zM878 205h1v1h-1zM879 203h1v2h-1zM880 202h1v1h-1zM881 199h1v3h-1zM882 197h1v2h-1zM883 194h1v3h-1zM884 192h1v2h-1zM885 191h1v1h-1zM886 190h1v1h-1zM887 189h4v1h-4zM891 190h2v1h-2zM893 191h2v1h-2zM895 192h4v1h-4zM899 191h1v1h-1zM900 190h1v1h-1zM901 189h1v1h-1zM902 190h2v1h-2zM904 191h1v1h-1zM905 192h1v1h-1zM906 193h1v2h-1zM907 195h1v1h-1zM908 196h1v2h-1zM909 198h1v1h-1zM910 199h1v1h-1zM911 200h1v1h-1zM912 201h1v1h-1zM913 202h8v1h-8zM921 201h3v1h-3zM924 202h4v1h-4z" fill="#ff0000" shape-rendering="crispEdges"/>
<g shape-rendering="crispEdges">
<rect x="4" y="50" width="1162" height="2" fill="#ff0000"/>
<rect x="4" y="153" width="1162" height="2" fill="#ff0000"/>
<rect x="4" y="232" width="1162" height="2" fill="#00ff00"/>
<rect x="4" y="330" width="1162" height="2" fill="#0000ff"/>
<rect x="4" y="428" width="1162" height="2" fill="#0000ff"/>
</g>
<g shape-rendering="crispEdges">
<path d="M3.5 23V659M1166.5 23V659M3 23.5H1167M3 483.5H1167M3 485.5H1167M3 569.5H1167M3 571.5H1167M3 658.5H1167" stroke="#000" stroke-width="1" fill="none"/>
<rect x="3" y="151" width="6" height="6" fill="#ff0000"/><rect x="5" y="153" width="2" height="2" fill="#fff"/>
<rect x="1160" y="151" width="6" height="6" fill="#ff0000"/><rect x="1162" y="153" width="2" height="2" fill="#fff"/>
<rect x="3" y="328" width="6" height="6" fill="#0000ff"/><rect x="5" y="330" width="2" height="2" fill="#fff"/>
<rect x="1160" y="328" width="6" height="6" fill="#0000ff"/><rect x="1162" y="330" width="2" height="2" fill="#fff"/>
<rect x="3" y="426" width="6" height="6" fill="#0000ff"/><rect x="5" y="428" width="2" height="2" fill="#fff"/>
<rect x="1160" y="426" width="6" height="6" fill="#0000ff"/><rect x="1162" y="428" width="2" height="2" fill="#fff"/>
</g>
<g id="bars" shape-rendering="crispEdges">
<path d="M8.5 412V438M10.5 381V435M16.5 404V416M18.5 404V418M24.5 411V429M30.5 421V430M34.5 424V456M36.5 417V439M40.5 433V448M46.5 413V449M48.5 403V446M52.5 397V418M56.5 389V430M58.5 371V416M64.5 407V423M66.5 396V419M68.5 388V414M70.5 345V399M78.5 379V401M80.5 365V393M86.5 392V402M90.5 389V403M98.5 416V441M100.5 411V422M102.5 410V421M104.5 358V419M112.5 401V407M114.5 395V405M116.5 369V400M118.5 337V396M120.5 318V350M124.5 329V341M126.5 319V337M132.5 385V404M134.5 385V397M136.5 385V398M138.5 370V397M146.5 408V422M148.5 405V417M150.5 403V416M156.5 419V438M158.5 418V427M162.5 419V430M168.5 425V470M170.5 424V437M172.5 425V438M176.5 416V438M180.5 428V455M186.5 451V462M188.5 422V464M190.5 401V433M192.5 381V412M196.5 393V408M198.5 389V400M202.5 384V407M204.5 388V397M206.5 379V395M208.5 381V391M214.5 372V405M224.5 391V410M226.5 380V405M230.5 282V399M234.5 275V290M236.5 200V281M238.5 190V220M240.5 165V204M242.5 152V181M246.5 151V177M248.5 144V172M250.5 110V163M254.5 114V128M268.5 139V169M270.5 128V153M272.5 122V154M276.5 129V148M280.5 140V171M288.5 170V193M290.5 148V174M292.5 144V167M294.5 142V157M300.5 143V168M306.5 167V173M312.5 165V207M314.5 158V172M316.5 150V179M320.5 149V172M322.5 120V162M326.5 140V156M328.5 132V148M332.5 123V144M334.5 97V138M338.5 120V138M342.5 114V131M344.5 98V128M346.5 78V110M348.5 67V97M352.5 65V82M354.5 60V71M360.5 67V96M362.5 59V77M364.5 61V74M368.5 47V68M376.5 107V122M382.5 103V133M386.5 109V116M388.5 109V120M392.5 82V146M396.5 78V105M398.5 75V90M406.5 73V111M408.5 55V84M410.5 67V90M412.5 63V75M420.5 191V220M424.5 192V205M426.5 187V198M430.5 190V208M436.5 203V217M438.5 191V208M440.5 182V220M444.5 184V202M450.5 194V208M452.5 181V203M454.5 137V191M458.5 150V183M464.5 139V172M472.5 197V212M478.5 161V233M480.5 156V178M484.5 152V173M488.5 133V162M490.5 133V157M492.5 137V156M494.5 140V155M496.5 141V158M498.5 131V151M500.5 111V139M506.5 158V172M508.5 155V177M510.5 143V165M514.5 107V167M520.5 116V128M522.5 114V127M524.5 100V130M532.5 161V172M534.5 165V173M536.5 148V181M540.5 137V185M544.5 148V155M546.5 133V150M548.5 122V146M552.5 119V136M570.5 183V193M572.5 154V189M578.5 204V225M580.5 195V215M582.5 195V209M586.5 177V212M604.5 299V317M606.5 291V304M610.5 297V324M612.5 290V316M614.5 301V312M624.5 317V336M628.5 311V322M630.5 312V323M634.5 326V354M636.5 322V342M642.5 333V341M644.5 307V342M648.5 288V352M650.5 299V310M652.5 294V312M660.5 297V312M664.5 287V304M666.5 280V292M668.5 278V299M670.5 229V286M672.5 199V234M674.5 191V209M678.5 190V205M680.5 169V199M682.5 144V189M686.5 132V150M688.5 125V153M692.5 115V142M694.5 96V121M698.5 96V106M702.5 102V114M704.5 86V105M710.5 112V132M716.5 109V122M718.5 94V118M722.5 89V106M738.5 182V195M744.5 227V249M748.5 218V234M750.5 215V227M754.5 227V260M756.5 200V239M758.5 196V213M762.5 204V218M766.5 180V219M768.5 142V188M772.5 145V185M774.5 129V149M778.5 160V193M780.5 156V178M782.5 149V168M788.5 154V188M792.5 158V173M798.5 175V189M804.5 210V223M808.5 221V235M810.5 217V228M816.5 219V246M820.5 199V243M826.5 189V224M832.5 203V213M834.5 201V208M836.5 166V208M838.5 147V196M842.5 149V171M848.5 157V189M858.5 230V255M860.5 188V244M862.5 156V205M864.5 171V194M876.5 171V239M880.5 172V201M882.5 151V177M890.5 191V211M896.5 185V205M900.5 179V212M906.5 205V218M908.5 201V218M912.5 205V230M916.5 203V215M918.5 195V206M920.5 181V198M928.5 194V201" stroke="#ff0000" stroke-width="1" fill="none"/>
<path d="M4.5 407V422M6.5 411V427M12.5 385V410M14.5 390V405M20.5 378V419M22.5 401V434M26.5 412V424M28.5 416V431M32.5 420V467M38.5 413V441M42.5 435V451M44.5 433V453M50.5 397V417M54.5 404V424M60.5 378V413M62.5 407V424M72.5 371V391M74.5 383V394M76.5 376V398M82.5 369V393M84.5 385V400M88.5 394V406M92.5 383V407M94.5 386V416M96.5 410V447M106.5 351V396M108.5 387V407M110.5 398V411M122.5 318V342M128.5 316V332M130.5 322V402M140.5 369V395M142.5 386V415M144.5 405V421M152.5 394V425M154.5 415V441M160.5 417V427M164.5 415V436M166.5 431V472M174.5 427V435M178.5 392V448M182.5 438V448M184.5 442V458M194.5 386V397M200.5 381V407M210.5 379V393M212.5 386V424M216.5 391V408M218.5 395V407M220.5 395V403M222.5 393V402M228.5 380V398M232.5 270V290M244.5 157V173M252.5 99V132M256.5 105V119M258.5 94V128M260.5 93V130M262.5 117V169M264.5 149V162M266.5 151V167M274.5 122V147M278.5 131V170M282.5 142V151M284.5 153V169M286.5 153V193M296.5 138V163M298.5 148V170M302.5 150V162M304.5 162V174M308.5 160V183M310.5 165V209M318.5 153V165M324.5 144V160M330.5 129V144M336.5 109V140M340.5 120V132M350.5 62V80M356.5 50V81M358.5 63V93M370.5 52V110M372.5 77V110M374.5 100V139M378.5 106V120M380.5 98V133M384.5 108V120M390.5 109V133M394.5 82V110M400.5 77V91M402.5 86V99M404.5 82V106M414.5 63V84M416.5 72V172M418.5 163V199M422.5 181V201M428.5 168V207M432.5 183V203M434.5 196V212M442.5 173V209M446.5 188V199M448.5 195V205M456.5 165V191M460.5 147V164M462.5 152V164M466.5 139V183M468.5 176V196M470.5 192V209M474.5 192V214M476.5 201V239M482.5 146V167M486.5 150V162M502.5 120V184M504.5 155V173M512.5 145V172M516.5 98V126M518.5 110V127M526.5 111V141M528.5 135V167M530.5 153V176M538.5 139V194M542.5 135V154M550.5 111V143M554.5 123V141M556.5 135V150M558.5 145V159M560.5 147V180M562.5 144V190M564.5 183V195M566.5 185V201M568.5 186V202M574.5 156V217M576.5 189V221M584.5 189V221M588.5 180V220M590.5 189V259M592.5 255V267M594.5 262V278M596.5 266V290M598.5 269V297M600.5 289V315M602.5 297V316M608.5 290V334M616.5 301V315M618.5 304V317M620.5 305V326M622.5 299V332M626.5 313V322M632.5 311V338M638.5 322V335M640.5 329V338M646.5 320V360M656.5 286V318M658.5 292V320M662.5 295V307M676.5 182V202M684.5 142V156M690.5 132V145M696.5 98V113M700.5 98V123M706.5 90V135M708.5 111V127M712.5 115V123M714.5 111V124M720.5 92V107M724.5 94V105M726.5 97V105M728.5 90V115M730.5 110V151M732.5 147V189M734.5 184V201M736.5 191V201M740.5 184V227M742.5 205V248M746.5 229V236M752.5 219V259M760.5 195V246M764.5 205V227M770.5 155V200M776.5 143V204M784.5 150V172M786.5 163V188M790.5 154V184M794.5 162V179M796.5 165V190M800.5 164V212M802.5 167V227M806.5 213V232M812.5 215V239M814.5 216V248M818.5 211V228M822.5 195V213M824.5 198V230M828.5 199V222M830.5 204V224M840.5 147V175M844.5 158V170M846.5 165V184M850.5 138V190M852.5 164V238M854.5 232V253M856.5 239V259M866.5 170V183M868.5 168V183M870.5 179V199M872.5 187V217M874.5 208V242M878.5 182V201M884.5 150V181M886.5 164V205M888.5 183V212M892.5 189V206M894.5 188V197M898.5 177V205M902.5 186V210M904.5 204V217M910.5 187V242M914.5 213V229M922.5 176V190M924.5 181V194M926.5 190V196" stroke="#32cd32" stroke-width="1" fill="none"/>
<path d="M366.5 58V68M654.5 288V296" stroke="#000" stroke-width="1" fill="none"/>
</g>
<path d="M4 540h2v8h-2zM6 540h2v11h-2zM8 540h2v11h-2zM10 540h2v11h-2zM12 540h2v11h-2zM14 540h2v10h-2zM16 540h2v10h-2zM18 540h2v10h-2zM20 540h2v10h-2zM22 540h2v10h-2zM24 540h2v11h-2zM26 540h2v11h-2zM28 540h2v11h-2zM30 540h2v12h-2zM32 540h2v12h-2zM34 540h2v11h-2zM36 540h2v11h-2zM38 540h2v11h-2zM40 540h2v11h-2zM42 540h2v11h-2zM44 540h2v11h-2zM46 540h2v10h-2zM48 540h2v8h-2zM50 540h2v7h-2zM52 540h2v6h-2zM54 540h2v4h-2zM56 540h2v2h-2zM66 538h2v2h-2zM68 537h2v3h-2zM70 536h2v4h-2zM72 536h2v4h-2zM74 535h2v5h-2zM76 535h2v5h-2zM78 535h2v5h-2zM80 535h2v5h-2zM82 536h2v4h-2zM84 536h2v4h-2zM86 537h2v3h-2zM88 537h2v3h-2zM90 538h2v2h-2zM92 538h2v2h-2zM98 540h2v2h-2zM100 540h2v2h-2zM114 539h2v1h-2zM116 538h2v2h-2zM118 534h2v6h-2zM120 532h2v8h-2zM122 530h2v10h-2zM124 528h2v12h-2zM126 527h2v13h-2zM128 528h2v12h-2zM130 531h2v9h-2zM132 533h2v7h-2zM134 535h2v5h-2zM136 536h2v4h-2zM138 537h2v3h-2zM140 538h2v2h-2zM144 540h2v3h-2zM146 540h2v4h-2zM148 540h2v5h-2zM150 540h2v6h-2zM152 540h2v7h-2zM154 540h2v8h-2zM156 540h2v8h-2zM158 540h2v9h-2zM160 540h2v10h-2zM162 540h2v10h-2zM164 540h2v11h-2zM166 540h2v11h-2zM168 540h2v10h-2zM170 540h2v10h-2zM172 540h2v10h-2zM174 540h2v10h-2zM176 540h2v10h-2zM178 540h2v10h-2zM180 540h2v10h-2zM182 540h2v10h-2zM184 540h2v10h-2zM186 540h2v10h-2zM188 540h2v9h-2zM190 540h2v6h-2zM196 538h2v2h-2zM198 537h2v3h-2zM200 536h2v4h-2zM202 536h2v4h-2zM204 535h2v5h-2zM206 534h2v6h-2zM208 534h2v6h-2zM210 535h2v5h-2zM212 535h2v5h-2zM214 536h2v4h-2zM216 536h2v4h-2zM218 536h2v4h-2zM220 536h2v4h-2zM222 536h2v4h-2zM224 536h2v4h-2zM226 536h2v4h-2zM228 532h2v8h-2zM230 526h2v14h-2zM232 521h2v19h-2zM234 517h2v23h-2zM236 511h2v29h-2zM238 505h2v35h-2zM240 502h2v38h-2zM242 498h2v42h-2zM244 496h2v44h-2zM246 494h2v46h-2zM248 492h2v48h-2zM250 491h2v49h-2zM252 490h2v50h-2zM254 490h2v50h-2zM256 491h2v49h-2zM258 492h2v48h-2zM260 495h2v45h-2zM262 499h2v41h-2zM264 502h2v38h-2zM266 504h2v36h-2zM268 505h2v35h-2zM270 507h2v33h-2zM272 508h2v32h-2zM274 510h2v30h-2zM276 512h2v28h-2zM278 514h2v26h-2zM280 516h2v24h-2zM282 518h2v22h-2zM284 521h2v19h-2zM286 524h2v16h-2zM288 525h2v15h-2zM290 526h2v14h-2zM292 527h2v13h-2zM294 528h2v12h-2zM296 528h2v12h-2zM298 529h2v11h-2zM300 530h2v10h-2zM302 532h2v8h-2zM304 533h2v7h-2zM306 535h2v5h-2zM308 536h2v4h-2zM310 537h2v3h-2zM312 538h2v2h-2zM314 537h2v3h-2zM316 537h2v3h-2zM318 537h2v3h-2zM320 536h2v4h-2zM322 536h2v4h-2zM324 535h2v5h-2zM326 534h2v6h-2zM328 534h2v6h-2zM330 533h2v7h-2zM332 532h2v8h-2zM334 532h2v8h-2zM336 532h2v8h-2zM338 532h2v8h-2zM340 531h2v9h-2zM342 531h2v9h-2zM344 530h2v10h-2zM346 528h2v12h-2zM348 526h2v14h-2zM350 524h2v16h-2zM352 523h2v17h-2zM354 523h2v17h-2zM356 523h2v17h-2zM358 524h2v16h-2zM360 524h2v16h-2zM362 525h2v15h-2zM364 525h2v15h-2zM366 526h2v14h-2zM368 526h2v14h-2zM370 528h2v12h-2zM372 532h2v8h-2zM374 534h2v6h-2zM376 535h2v5h-2zM378 536h2v4h-2zM380 538h2v2h-2zM382 539h2v1h-2zM394 538h2v2h-2zM396 537h2v3h-2zM398 537h2v3h-2zM400 537h2v3h-2zM402 537h2v3h-2zM404 537h2v3h-2zM406 536h2v4h-2zM408 535h2v5h-2zM410 534h2v6h-2zM412 534h2v6h-2zM414 535h2v5h-2zM418 540h2v9h-2zM420 540h2v13h-2zM422 540h2v15h-2zM424 540h2v17h-2zM426 540h2v18h-2zM428 540h2v19h-2zM430 540h2v19h-2zM432 540h2v20h-2zM434 540h2v20h-2zM436 540h2v20h-2zM438 540h2v19h-2zM440 540h2v18h-2zM442 540h2v18h-2zM444 540h2v17h-2zM446 540h2v17h-2zM448 540h2v16h-2zM450 540h2v14h-2zM452 540h2v13h-2zM454 540h2v11h-2zM456 540h2v9h-2zM458 540h2v7h-2zM460 540h2v5h-2zM462 540h2v4h-2zM464 540h2v4h-2zM466 540h2v5h-2zM468 540h2v5h-2zM470 540h2v6h-2zM472 540h2v6h-2zM474 540h2v9h-2zM476 540h2v8h-2zM478 540h2v5h-2zM480 540h2v3h-2zM484 539h2v1h-2zM486 538h2v2h-2zM488 537h2v3h-2zM490 536h2v4h-2zM492 536h2v4h-2zM494 535h2v5h-2zM496 534h2v6h-2zM498 533h2v7h-2zM500 534h2v6h-2zM502 535h2v5h-2zM504 535h2v5h-2zM506 536h2v4h-2zM508 536h2v4h-2zM510 535h2v5h-2zM512 535h2v5h-2zM514 534h2v6h-2zM516 533h2v7h-2zM518 533h2v7h-2zM520 532h2v8h-2zM522 532h2v8h-2zM524 532h2v8h-2zM526 533h2v7h-2zM528 535h2v5h-2zM530 538h2v2h-2zM532 539h2v1h-2zM536 540h2v3h-2zM538 540h2v3h-2zM544 539h2v1h-2zM546 538h2v2h-2zM548 537h2v3h-2zM550 537h2v3h-2zM552 536h2v4h-2zM554 537h2v3h-2zM556 537h2v3h-2zM558 539h2v1h-2zM562 540h2v4h-2zM564 540h2v6h-2zM566 540h2v7h-2zM568 540h2v8h-2zM570 540h2v8h-2zM572 540h2v9h-2zM574 540h2v10h-2zM576 540h2v11h-2zM578 540h2v11h-2zM580 540h2v11h-2zM582 540h2v11h-2zM584 540h2v11h-2zM586 540h2v12h-2zM588 540h2v13h-2zM590 540h2v15h-2zM592 540h2v18h-2zM594 540h2v20h-2zM596 540h2v22h-2zM598 540h2v23h-2zM600 540h2v25h-2zM602 540h2v26h-2zM604 540h2v26h-2zM606 540h2v26h-2zM608 540h2v27h-2zM610 540h2v26h-2zM612 540h2v25h-2zM614 540h2v24h-2zM616 540h2v24h-2zM618 540h2v23h-2zM620 540h2v23h-2zM622 540h2v22h-2zM624 540h2v21h-2zM626 540h2v21h-2zM628 540h2v20h-2zM630 540h2v19h-2zM632 540h2v19h-2zM634 540h2v18h-2zM636 540h2v18h-2zM638 540h2v17h-2zM640 540h2v17h-2zM642 540h2v16h-2zM644 540h2v15h-2zM646 540h2v15h-2zM648 540h2v12h-2zM650 540h2v10h-2zM652 540h2v8h-2zM654 540h2v6h-2zM656 540h2v5h-2zM658 540h2v5h-2zM660 540h2v4h-2zM662 540h2v3h-2zM664 540h2v2h-2zM668 538h2v2h-2zM670 532h2v8h-2zM672 528h2v12h-2zM674 526h2v14h-2zM676 524h2v16h-2zM678 521h2v19h-2zM680 518h2v22h-2zM682 516h2v24h-2zM684 513h2v27h-2zM686 512h2v28h-2zM688 511h2v29h-2zM690 510h2v30h-2zM692 509h2v31h-2zM694 508h2v32h-2zM696 508h2v32h-2zM698 507h2v33h-2zM700 508h2v32h-2zM702 509h2v31h-2zM704 511h2v29h-2zM706 512h2v28h-2zM708 514h2v26h-2zM710 516h2v24h-2zM712 517h2v23h-2zM714 518h2v22h-2zM716 518h2v22h-2zM718 519h2v21h-2zM720 520h2v20h-2zM722 520h2v20h-2zM724 521h2v19h-2zM726 522h2v18h-2zM728 524h2v16h-2zM730 528h2v12h-2zM732 532h2v8h-2zM734 537h2v3h-2zM736 540h2v3h-2zM738 540h2v6h-2zM740 540h2v10h-2zM742 540h2v12h-2zM744 540h2v14h-2zM746 540h2v15h-2zM748 540h2v15h-2zM750 540h2v16h-2zM752 540h2v17h-2zM754 540h2v17h-2zM756 540h2v15h-2zM758 540h2v14h-2zM760 540h2v13h-2zM762 540h2v12h-2zM764 540h2v10h-2zM766 540h2v8h-2zM768 540h2v5h-2zM772 539h2v1h-2zM774 538h2v2h-2zM776 537h2v3h-2zM778 537h2v3h-2zM780 536h2v4h-2zM782 536h2v4h-2zM784 537h2v3h-2zM786 537h2v3h-2zM788 537h2v3h-2zM790 537h2v3h-2zM792 537h2v3h-2zM794 537h2v3h-2zM796 538h2v2h-2zM798 538h2v2h-2zM802 540h2v4h-2zM804 540h2v6h-2zM806 540h2v7h-2zM808 540h2v8h-2zM810 540h2v9h-2zM812 540h2v10h-2zM814 540h2v9h-2zM816 540h2v9h-2zM818 540h2v9h-2zM820 540h2v9h-2zM822 540h2v8h-2zM824 540h2v8h-2zM826 540h2v8h-2zM828 540h2v8h-2zM830 540h2v7h-2zM832 540h2v7h-2zM834 540h2v5h-2zM838 538h2v2h-2zM840 536h2v4h-2zM842 535h2v5h-2zM844 535h2v5h-2zM846 534h2v6h-2zM848 535h2v5h-2zM850 536h2v4h-2zM854 540h2v5h-2zM856 540h2v6h-2zM858 540h2v6h-2zM860 540h2v4h-2zM864 539h2v1h-2zM866 538h2v2h-2zM868 539h2v1h-2zM876 539h2v1h-2zM878 538h2v2h-2zM880 537h2v3h-2zM882 536h2v4h-2zM884 537h2v3h-2zM886 538h2v2h-2zM888 539h2v1h-2zM890 539h2v1h-2zM892 539h2v1h-2zM894 539h2v1h-2zM904 540h2v2h-2zM906 540h2v3h-2zM908 540h2v4h-2zM910 540h2v4h-2zM912 540h2v4h-2zM914 540h2v4h-2zM916 540h2v4h-2zM918 540h2v3h-2zM922 539h2v1h-2zM924 539h2v1h-2zM926 539h2v1h-2zM4 539h926v1h-926z" fill="#c0c0c0" shape-rendering="crispEdges"/>
<path d="M4 545h6v1h-6zM10 546h2v1h-2zM12 547h2v1h-2zM14 548h4v1h-4zM18 549h16v1h-16zM34 550h15v1h-15zM49 549h3v1h-3zM52 548h2v1h-2zM54 547h2v1h-2zM56 546h3v1h-3zM59 545h1v1h-1zM60 544h3v1h-3zM63 543h1v1h-1zM64 542h2v1h-2zM66 541h2v1h-2zM68 540h2v1h-2zM70 539h2v1h-2zM72 538h4v1h-4zM76 537h4v1h-4zM80 536h16v1h-16zM96 537h3v1h-3zM99 538h2v1h-2zM101 539h5v1h-5zM106 540h10v1h-10zM116 539h2v1h-2zM118 538h3v1h-3zM121 537h2v1h-2zM123 536h2v1h-2zM125 535h2v1h-2zM127 534h1v1h-1zM128 533h1v1h-1zM129 532h2v1h-2zM131 531h10v1h-10zM141 532h1v1h-1zM142 533h2v1h-2zM144 534h1v1h-1zM145 535h1v1h-1zM146 536h1v1h-1zM147 537h1v1h-1zM148 538h2v1h-2zM150 539h2v1h-2zM152 540h2v1h-2zM154 541h2v1h-2zM156 542h2v1h-2zM158 543h1v1h-1zM159 544h2v1h-2zM161 545h2v1h-2zM163 546h3v1h-3zM166 547h3v1h-3zM169 548h22v1h-22zM191 547h1v1h-1zM192 546h3v1h-3zM195 545h1v1h-1zM196 544h2v1h-2zM198 543h2v1h-2zM200 542h1v1h-1zM201 541h2v1h-2zM203 540h1v1h-1zM204 539h2v1h-2zM206 538h2v1h-2zM208 537h2v1h-2zM210 536h3v1h-3zM213 535h18v1h-18zM231 534h2v1h-2zM233 533h1v1h-1zM234 532h2v1h-2zM236 530h1v2h-1zM237 529h1v1h-1zM238 527h1v2h-1zM239 525h1v2h-1zM240 523h1v2h-1zM241 521h1v2h-1zM242 519h1v2h-1zM243 517h1v2h-1zM244 515h1v2h-1zM245 513h1v2h-1zM246 511h1v2h-1zM247 509h1v2h-1zM248 507h1v2h-1zM249 505h1v2h-1zM250 503h1v2h-1zM251 502h1v1h-1zM252 501h1v1h-1zM253 499h1v2h-1zM254 498h1v1h-1zM255 497h1v1h-1zM256 496h1v1h-1zM257 495h1v1h-1zM258 494h1v1h-1zM259 493h8v1h-8zM267 494h1v1h-1zM268 495h1v1h-1zM269 496h1v2h-1zM270 498h1v1h-1zM271 499h1v1h-1zM272 500h1v1h-1zM273 501h1v1h-1zM274 502h1v1h-1zM275 503h1v1h-1zM276 504h1v1h-1zM277 505h1v1h-1zM278 506h1v1h-1zM279 507h1v1h-1zM280 508h2v1h-2zM282 509h1v1h-1zM283 510h1v1h-1zM284 511h1v1h-1zM285 512h1v1h-1zM286 513h1v2h-1zM287 515h1v1h-1zM288 516h1v2h-1zM289 518h2v1h-2zM291 519h1v1h-1zM292 520h1v1h-1zM293 521h1v1h-1zM294 522h1v1h-1zM295 523h1v1h-1zM296 524h2v1h-2zM298 525h1v1h-1zM299 526h2v1h-2zM301 527h1v1h-1zM302 528h3v1h-3zM305 529h3v1h-3zM308 530h2v1h-2zM310 531h1v1h-1zM311 532h1v1h-1zM312 533h2v1h-2zM314 534h3v1h-3zM317 535h3v1h-3zM320 536h8v1h-8zM328 535h5v1h-5zM333 534h6v1h-6zM339 533h4v1h-4zM343 532h3v1h-3zM346 531h2v1h-2zM348 530h3v1h-3zM351 529h2v1h-2zM353 528h2v1h-2zM355 527h2v1h-2zM357 526h3v1h-3zM360 525h3v1h-3zM363 524h11v1h-11zM374 525h1v1h-1zM375 526h2v1h-2zM377 527h1v1h-1zM378 528h2v1h-2zM380 529h1v1h-1zM381 530h2v1h-2zM383 531h1v1h-1zM384 532h1v1h-1zM385 533h1v1h-1zM386 534h1v1h-1zM387 535h2v1h-2zM389 536h1v1h-1zM390 537h1v1h-1zM391 538h3v1h-3zM394 539h9v1h-9zM403 538h3v1h-3zM406 537h4v1h-4zM410 536h8v1h-8zM418 537h2v1h-2zM420 538h1v1h-1zM421 539h2v1h-2zM423 540h1v1h-1zM424 541h1v1h-1zM425 542h1v1h-1zM426 543h1v2h-1zM427 545h1v1h-1zM428 546h1v1h-1zM429 547h1v2h-1zM430 549h1v1h-1zM431 550h1v2h-1zM432 552h2v1h-2zM434 553h1v1h-1zM435 554h2v1h-2zM437 555h2v1h-2zM439 556h5v1h-5zM444 557h5v1h-5zM449 556h3v1h-3zM452 555h2v1h-2zM454 554h2v1h-2zM456 553h2v1h-2zM458 552h1v1h-1zM459 551h2v1h-2zM461 550h1v1h-1zM462 549h2v1h-2zM464 548h1v1h-1zM465 547h2v1h-2zM467 546h1v1h-1zM468 545h4v1h-4zM472 544h6v1h-6zM478 545h5v1h-5zM483 544h4v1h-4zM487 543h2v1h-2zM489 542h2v1h-2zM491 541h2v1h-2zM493 540h2v1h-2zM495 539h2v1h-2zM497 538h1v1h-1zM498 537h2v1h-2zM500 536h2v1h-2zM502 535h19v1h-19zM521 534h3v1h-3zM524 533h10v1h-10zM534 534h2v1h-2zM536 535h2v1h-2zM538 536h2v1h-2zM540 537h1v1h-1zM541 538h2v1h-2zM543 539h9v1h-9zM552 538h13v1h-13zM565 539h3v1h-3zM568 540h2v1h-2zM570 541h2v1h-2zM572 542h2v1h-2zM574 543h2v1h-2zM576 544h2v1h-2zM578 545h2v1h-2zM580 546h2v1h-2zM582 547h4v1h-4zM586 548h5v1h-5zM591 549h1v1h-1zM592 550h2v1h-2zM594 551h2v1h-2zM596 552h2v1h-2zM598 553h2v1h-2zM600 554h1v1h-1zM601 555h1v1h-1zM602 556h1v1h-1zM603 557h1v1h-1zM604 558h1v1h-1zM605 559h2v1h-2zM607 560h1v1h-1zM608 561h2v1h-2zM610 562h3v1h-3zM613 563h10v1h-10zM623 562h4v1h-4zM627 561h3v1h-3zM630 560h4v1h-4zM634 559h4v1h-4zM638 558h3v1h-3zM641 557h3v1h-3zM644 556h4v1h-4zM648 555h3v1h-3zM651 554h1v1h-1zM652 553h1v1h-1zM653 552h1v1h-1zM654 551h2v1h-2zM656 550h2v1h-2zM658 549h2v1h-2zM660 548h1v1h-1zM661 547h1v1h-1zM662 546h2v1h-2zM664 545h1v1h-1zM665 544h2v1h-2zM667 543h1v1h-1zM668 542h2v1h-2zM670 541h1v1h-1zM671 540h1v1h-1zM672 539h1v1h-1zM673 538h2v1h-2zM675 537h1v1h-1zM676 536h1v1h-1zM677 534h1v2h-1zM678 533h1v1h-1zM679 532h1v1h-1zM680 531h1v1h-1zM681 530h1v1h-1zM682 528h1v2h-1zM683 527h1v1h-1zM684 526h1v1h-1zM685 524h1v2h-1zM686 523h1v1h-1zM687 521h1v2h-1zM688 520h1v1h-1zM689 519h1v1h-1zM690 518h1v1h-1zM691 516h1v2h-1zM692 515h1v1h-1zM693 514h1v1h-1zM694 513h2v1h-2zM696 512h1v1h-1zM697 511h1v1h-1zM698 510h2v1h-2zM700 509h2v1h-2zM702 508h7v1h-7zM709 509h3v1h-3zM712 510h2v1h-2zM714 511h2v1h-2zM716 512h2v1h-2zM718 513h1v1h-1zM719 514h2v1h-2zM721 515h2v1h-2zM723 516h2v1h-2zM725 517h2v1h-2zM727 518h2v1h-2zM729 519h1v1h-1zM730 520h2v1h-2zM732 521h1v1h-1zM733 522h1v1h-1zM734 523h1v1h-1zM735 524h1v2h-1zM736 526h1v1h-1zM737 527h1v1h-1zM738 528h1v1h-1zM739 529h1v1h-1zM740 530h1v1h-1zM741 531h1v2h-1zM742 533h1v2h-1zM743 535h1v2h-1zM744 537h1v2h-1zM745 539h1v2h-1zM746 541h1v2h-1zM747 543h1v1h-1zM748 544h1v2h-1zM749 546h1v1h-1zM750 547h1v1h-1zM751 548h1v1h-1zM752 549h1v1h-1zM753 550h2v1h-2zM755 551h1v1h-1zM756 552h3v1h-3zM759 553h4v1h-4zM763 552h4v1h-4zM767 551h2v1h-2zM769 550h2v1h-2zM771 549h1v1h-1zM772 548h1v1h-1zM773 547h1v1h-1zM774 546h1v1h-1zM775 545h1v1h-1zM776 544h2v1h-2zM778 543h1v1h-1zM779 542h1v1h-1zM780 541h1v1h-1zM781 540h2v1h-2zM783 539h3v1h-3zM786 538h2v1h-2zM788 537h15v1h-15zM803 538h3v1h-3zM806 539h2v1h-2zM808 540h2v1h-2zM810 541h2v1h-2zM812 542h1v1h-1zM813 543h2v1h-2zM815 544h2v1h-2zM817 545h2v1h-2zM819 546h3v1h-3zM822 547h9v1h-9zM831 546h2v1h-2zM833 545h3v1h-3zM836 544h1v1h-1zM837 543h2v1h-2zM839 542h2v1h-2zM841 541h2v1h-2zM843 540h2v1h-2zM845 539h2v1h-2zM847 538h2v1h-2zM849 537h8v1h-8zM857 538h2v1h-2zM859 539h3v1h-3zM862 540h3v1h-3zM865 541h8v1h-8zM873 540h4v1h-4zM877 539h5v1h-5zM882 538h23v1h-23zM905 539h4v1h-4zM909 540h4v1h-4zM913 541h5v1h-5zM918 542h6v1h-6zM924 541h4v1h-4z" fill="#ff0000" shape-rendering="crispEdges"/>
<g shape-rendering="crispEdges"><path d="M5 598.5H1166M5 632.5H1166" stroke="#c0c0c0" stroke-width="1" stroke-dasharray="3 3" fill="none"/></g>
<path d="M4 624h1v2h-1zM5 626h1v1h-1zM6 627h1v1h-1zM7 626h1v1h-1zM8 624h1v2h-1zM9 620h1v4h-1zM10 618h1v2h-1zM11 618h1v1h-1zM12 619h1v1h-1zM13 620h1v1h-1zM14 621h5v1h-5zM19 622h1v1h-1zM20 623h1v1h-1zM21 624h1v1h-1zM22 625h1v1h-1zM23 623h1v2h-1zM24 621h1v2h-1zM25 622h1v1h-1zM26 623h2v1h-2zM28 624h1v1h-1zM29 623h1v1h-1zM30 623h1v2h-1zM31 625h1v3h-1zM32 628h1v2h-1zM33 624h1v4h-1zM34 621h1v3h-1zM35 620h1v1h-1zM36 618h1v2h-1zM37 620h1v2h-1zM38 622h4v1h-4zM42 623h1v1h-1zM43 624h1v1h-1zM44 623h1v2h-1zM45 620h1v3h-1zM46 617h1v3h-1zM47 616h1v1h-1zM48 614h1v2h-1zM49 614h2v1h-2zM51 613h1v1h-1zM52 613h1v2h-1zM53 615h1v1h-1zM54 615h1v2h-1zM55 612h1v3h-1zM56 610h1v2h-1zM57 609h1v1h-1zM58 608h1v2h-1zM59 610h1v3h-1zM60 613h1v2h-1zM61 615h1v2h-1zM62 617h1v1h-1zM63 615h1v2h-1zM64 614h1v1h-1zM65 613h1v1h-1zM66 612h1v1h-1zM67 611h1v1h-1zM68 610h1v1h-1zM69 608h1v2h-1zM70 607h1v2h-1zM71 609h1v1h-1zM72 610h1v1h-1zM73 611h1v1h-1zM74 611h1v2h-1zM75 613h2v1h-2zM77 611h1v2h-1zM78 610h3v1h-3zM81 611h1v1h-1zM82 612h1v1h-1zM83 613h1v1h-1zM84 614h5v1h-5zM89 613h1v1h-1zM90 612h1v1h-1zM91 612h1v2h-1zM92 614h1v2h-1zM93 616h1v2h-1zM94 618h1v3h-1zM95 621h1v3h-1zM96 623h1v2h-1zM97 621h1v2h-1zM98 619h1v2h-1zM99 618h1v1h-1zM100 617h2v1h-2zM102 614h1v3h-1zM103 610h1v4h-1zM104 607h1v3h-1zM105 609h1v3h-1zM106 612h1v2h-1zM107 614h1v1h-1zM108 615h1v1h-1zM109 616h2v1h-2zM111 615h2v1h-2zM113 614h1v1h-1zM114 613h1v1h-1zM115 610h1v3h-1zM116 608h1v2h-1zM117 605h1v3h-1zM118 602h1v3h-1zM119 600h1v2h-1zM120 599h1v2h-1zM121 601h1v3h-1zM122 604h2v1h-2zM124 603h2v1h-2zM126 602h1v1h-1zM127 603h1v1h-1zM128 604h1v5h-1zM129 609h1v7h-1zM130 616h1v3h-1zM131 618h1v1h-1zM132 617h5v1h-5zM137 615h1v2h-1zM138 614h1v1h-1zM139 615h1v2h-1zM140 617h1v1h-1zM141 618h1v2h-1zM142 620h1v1h-1zM143 621h1v1h-1zM144 622h3v1h-3zM147 621h2v1h-2zM149 620h1v1h-1zM150 619h1v1h-1zM151 620h1v2h-1zM152 622h2v1h-2zM154 623h2v1h-2zM156 622h6v1h-6zM162 622h1v2h-1zM163 624h1v2h-1zM164 626h1v2h-1zM165 628h1v2h-1zM166 629h1v2h-1zM167 624h1v5h-1zM168 620h1v4h-1zM169 620h2v1h-2zM171 619h5v1h-5zM176 619h1v2h-1zM177 621h1v1h-1zM178 622h2v1h-2zM180 621h2v1h-2zM182 622h1v1h-1zM183 623h1v2h-1zM184 625h2v1h-2zM186 622h1v3h-1zM187 616h1v6h-1zM188 612h1v4h-1zM189 610h1v2h-1zM190 609h1v1h-1zM191 607h1v2h-1zM192 606h1v1h-1zM193 607h1v1h-1zM194 608h4v1h-4zM198 609h1v1h-1zM199 610h1v1h-1zM200 611h1v1h-1zM201 609h1v2h-1zM202 608h3v1h-3zM205 607h2v1h-2zM207 606h1v1h-1zM208 607h1v1h-1zM209 608h1v2h-1zM210 610h1v1h-1zM211 611h4v1h-4zM215 612h1v1h-1zM216 613h2v1h-2zM218 614h1v1h-1zM219 612h1v2h-1zM220 611h1v2h-1zM221 613h1v1h-1zM222 614h1v1h-1zM223 613h1v1h-1zM224 611h1v2h-1zM225 610h1v1h-1zM226 608h1v2h-1zM227 610h1v2h-1zM228 607h1v5h-1zM229 598h1v9h-1zM230 593h1v5h-1zM231 592h1v1h-1zM232 593h1v1h-1zM233 592h1v1h-1zM234 591h1v2h-1zM235 589h1v2h-1zM236 587h1v2h-1zM237 586h1v1h-1zM238 585h6v1h-6zM244 586h3v1h-3zM247 585h2v1h-2zM249 584h1v1h-1zM250 583h1v1h-1zM251 584h1v1h-1zM252 585h5v1h-5zM257 586h1v1h-1zM258 587h1v1h-1zM259 588h1v2h-1zM260 590h1v4h-1zM261 594h1v4h-1zM262 598h1v2h-1zM263 600h1v1h-1zM264 601h1v1h-1zM265 602h1v1h-1zM266 603h1v1h-1zM267 601h1v2h-1zM268 600h1v1h-1zM269 599h1v1h-1zM270 598h1v1h-1zM271 597h1v1h-1zM272 598h1v2h-1zM273 600h1v1h-1zM274 601h1v1h-1zM275 602h1v1h-1zM276 603h1v2h-1zM277 605h1v2h-1zM278 607h1v1h-1zM279 606h1v1h-1zM280 605h1v1h-1zM281 606h1v1h-1zM282 607h1v2h-1zM283 609h1v2h-1zM284 611h1v2h-1zM285 613h1v3h-1zM286 616h1v2h-1zM287 615h1v2h-1zM288 613h1v2h-1zM289 611h1v2h-1zM290 610h1v1h-1zM291 609h2v1h-2zM293 608h1v1h-1zM294 609h1v1h-1zM295 610h1v1h-1zM296 611h1v1h-1zM297 612h1v1h-1zM298 613h1v1h-1zM299 611h1v2h-1zM300 610h1v1h-1zM301 611h1v1h-1zM302 612h1v1h-1zM303 613h1v1h-1zM304 614h2v1h-2zM306 614h1v2h-1zM307 616h1v2h-1zM308 618h1v2h-1zM309 620h1v2h-1zM310 619h1v2h-1zM311 616h1v3h-1zM312 614h1v2h-1zM313 613h2v1h-2zM315 612h1v1h-1zM316 611h1v1h-1zM317 612h1v1h-1zM318 613h1v1h-1zM319 612h2v1h-2zM321 611h1v1h-1zM322 609h1v2h-1zM323 610h1v2h-1zM324 612h1v1h-1zM325 610h1v2h-1zM326 609h1v1h-1zM327 608h3v1h-3zM330 609h1v1h-1zM331 607h1v2h-1zM332 606h1v1h-1zM333 605h1v1h-1zM334 604h1v2h-1zM335 606h1v3h-1zM336 609h1v2h-1zM337 609h1v1h-1zM338 608h3v1h-3zM341 607h1v1h-1zM342 605h1v2h-1zM343 604h1v1h-1zM344 603h1v1h-1zM345 602h1v1h-1zM346 600h1v2h-1zM347 598h1v2h-1zM348 597h2v1h-2zM350 598h1v1h-1zM351 597h1v1h-1zM352 596h3v1h-3zM355 597h1v1h-1zM356 598h1v3h-1zM357 601h1v4h-1zM358 605h1v2h-1zM359 604h1v2h-1zM360 602h1v2h-1zM361 601h1v1h-1zM362 600h4v1h-4zM366 599h2v1h-2zM368 599h1v3h-1zM369 602h1v6h-1zM370 608h1v5h-1zM371 613h1v3h-1zM372 616h1v3h-1zM373 619h1v2h-1zM374 621h1v2h-1zM375 618h1v3h-1zM376 616h1v2h-1zM377 616h1v1h-1zM378 617h1v2h-1zM379 619h1v1h-1zM380 620h1v1h-1zM381 618h1v2h-1zM382 617h6v1h-6zM388 618h1v2h-1zM389 620h1v2h-1zM390 620h1v3h-1zM391 614h1v6h-1zM392 611h1v3h-1zM393 611h3v1h-3zM396 609h1v2h-1zM397 609h2v1h-2zM399 610h1v1h-1zM400 611h1v1h-1zM401 612h1v1h-1zM402 613h1v1h-1zM403 614h1v1h-1zM404 613h1v2h-1zM405 611h1v2h-1zM406 609h1v2h-1zM407 608h1v1h-1zM408 607h2v1h-2zM410 606h2v1h-2zM412 606h1v2h-1zM413 608h1v2h-1zM414 610h1v6h-1zM415 616h1v7h-1zM416 623h1v5h-1zM417 628h1v3h-1zM418 631h1v2h-1zM419 632h4v1h-4zM423 631h1v1h-1zM424 630h2v1h-2zM426 629h1v1h-1zM427 630h2v1h-2zM429 629h1v1h-1zM430 628h3v1h-3zM433 629h1v1h-1zM434 630h1v1h-1zM435 629h1v1h-1zM436 628h1v1h-1zM437 627h1v1h-1zM438 625h1v2h-1zM439 624h1v1h-1zM440 622h1v2h-1zM441 623h1v2h-1zM442 625h1v1h-1zM443 624h1v1h-1zM444 623h2v1h-2zM446 624h2v1h-2zM448 625h1v1h-1zM449 624h1v1h-1zM450 623h1v1h-1zM451 621h1v2h-1zM452 620h1v1h-1zM453 618h1v2h-1zM454 617h2v1h-2zM456 616h1v3h-1zM457 612h1v4h-1zM458 610h1v2h-1zM459 611h1v1h-1zM460 612h3v1h-3zM463 611h1v1h-1zM464 611h1v3h-1zM465 614h1v3h-1zM466 617h1v3h-1zM467 620h1v1h-1zM468 621h1v2h-1zM469 623h1v1h-1zM470 624h1v1h-1zM471 623h1v1h-1zM472 622h1v2h-1zM473 624h1v1h-1zM474 625h1v1h-1zM475 626h1v2h-1zM476 625h1v4h-1zM477 619h1v6h-1zM478 614h1v5h-1zM479 611h1v3h-1zM480 610h1v1h-1zM481 611h1v2h-1zM482 613h1v1h-1zM483 611h1v2h-1zM484 610h1v1h-1zM485 611h1v1h-1zM486 612h1v1h-1zM487 611h1v1h-1zM488 610h2v1h-2zM490 609h2v1h-2zM492 608h3v1h-3zM495 609h1v1h-1zM496 610h1v1h-1zM497 608h1v2h-1zM498 606h1v2h-1zM499 605h1v2h-1zM500 607h1v3h-1zM501 610h1v3h-1zM502 613h1v2h-1zM503 615h1v1h-1zM504 616h1v1h-1zM505 615h2v1h-2zM507 614h2v1h-2zM509 612h1v2h-1zM510 611h1v2h-1zM511 613h1v3h-1zM512 614h1v4h-1zM513 609h1v5h-1zM514 606h1v3h-1zM515 605h1v1h-1zM516 606h1v1h-1zM517 607h2v1h-2zM519 608h2v1h-2zM521 607h2v1h-2zM523 606h1v2h-1zM524 608h1v2h-1zM525 610h1v3h-1zM526 613h1v3h-1zM527 616h1v3h-1zM528 619h1v1h-1zM529 620h1v1h-1zM530 621h1v1h-1zM531 620h4v1h-4zM535 619h1v1h-1zM536 619h1v2h-1zM537 621h1v1h-1zM538 620h1v3h-1zM539 615h1v5h-1zM540 612h1v3h-1zM541 613h1v1h-1zM542 614h1v1h-1zM543 613h2v1h-2zM545 611h1v2h-1zM546 610h1v1h-1zM547 609h5v1h-5zM552 609h1v2h-1zM553 611h1v2h-1zM554 613h1v1h-1zM555 614h1v2h-1zM556 616h2v1h-2zM558 616h1v2h-1zM559 618h1v3h-1zM560 621h1v2h-1zM561 623h1v2h-1zM562 625h2v1h-2zM564 626h2v1h-2zM566 627h3v1h-3zM569 624h1v3h-1zM570 621h1v3h-1zM571 618h1v3h-1zM572 615h1v3h-1zM573 618h1v5h-1zM574 623h1v3h-1zM575 626h1v2h-1zM576 628h1v1h-1zM577 627h1v1h-1zM578 626h1v1h-1zM579 625h1v1h-1zM580 624h1v1h-1zM581 623h1v1h-1zM582 622h3v1h-3zM585 619h1v3h-1zM586 617h1v3h-1zM587 620h1v4h-1zM588 624h1v3h-1zM589 627h1v3h-1zM590 630h1v1h-1zM591 631h1v1h-1zM592 632h2v1h-2zM594 633h2v1h-2zM596 634h1v1h-1zM597 635h1v1h-1zM598 636h2v1h-2zM600 637h3v1h-3zM603 636h1v1h-1zM604 635h1v1h-1zM605 633h1v2h-1zM606 631h1v2h-1zM607 633h1v1h-1zM608 634h1v1h-1zM609 632h1v2h-1zM610 631h2v1h-2zM612 630h4v1h-4zM616 631h2v1h-2zM618 632h1v1h-1zM619 633h2v1h-2zM621 634h1v1h-1zM622 633h1v2h-1zM623 631h1v2h-1zM624 630h3v1h-3zM627 629h2v1h-2zM629 628h1v1h-1zM630 627h1v2h-1zM631 629h1v3h-1zM632 632h2v1h-2zM634 630h1v2h-1zM635 628h1v2h-1zM636 626h1v2h-1zM637 627h1v2h-1zM638 629h2v1h-2zM640 630h3v1h-3zM643 627h1v3h-1zM644 625h1v2h-1zM645 627h1v3h-1zM646 627h1v5h-1zM647 619h1v8h-1zM648 616h1v3h-1zM649 615h1v1h-1zM650 613h1v2h-1zM651 611h1v2h-1zM652 611h3v1h-3zM655 612h1v1h-1zM656 613h2v1h-2zM658 612h2v1h-2zM660 613h1v1h-1zM661 614h2v1h-2zM663 613h1v1h-1zM664 611h1v2h-1zM665 610h2v1h-2zM667 609h1v1h-1zM668 605h1v4h-1zM669 600h1v5h-1zM670 597h1v3h-1zM671 595h1v2h-1zM672 594h1v1h-1zM673 593h1v1h-1zM674 592h2v1h-2zM676 593h1v1h-1zM677 592h1v1h-1zM678 591h1v1h-1zM679 590h1v1h-1zM680 589h1v1h-1zM681 588h1v1h-1zM682 587h1v1h-1zM683 588h1v1h-1zM684 589h1v1h-1zM685 588h1v1h-1zM686 587h3v1h-3zM689 588h3v1h-3zM692 587h2v1h-2zM694 586h5v1h-5zM699 587h1v1h-1zM700 588h3v1h-3zM703 587h1v2h-1zM704 589h1v3h-1zM705 592h1v4h-1zM706 596h1v2h-1zM707 598h5v1h-5zM712 599h2v1h-2zM714 600h1v1h-1zM715 599h1v1h-1zM716 598h1v1h-1zM717 597h1v1h-1zM718 596h1v1h-1zM719 595h3v1h-3zM722 596h1v1h-1zM723 597h1v1h-1zM724 598h2v1h-2zM726 597h1v3h-1zM727 600h1v4h-1zM728 604h1v6h-1zM729 610h1v6h-1zM730 616h1v6h-1zM731 622h1v3h-1zM732 625h1v2h-1zM733 627h1v2h-1zM734 629h3v1h-3zM737 627h1v2h-1zM738 625h1v2h-1zM739 627h1v3h-1zM740 630h1v3h-1zM741 633h1v1h-1zM742 634h1v1h-1zM743 632h1v2h-1zM744 630h1v2h-1zM745 630h2v1h-2zM747 629h1v1h-1zM748 628h1v1h-1zM749 627h1v1h-1zM750 626h1v2h-1zM751 628h1v2h-1zM752 630h1v1h-1zM753 629h1v1h-1zM754 627h1v2h-1zM755 622h1v5h-1zM756 619h1v3h-1zM757 619h4v1h-4zM761 620h3v1h-3zM764 618h1v2h-1zM765 615h1v3h-1zM766 612h1v3h-1zM767 610h1v2h-1zM768 609h1v2h-1zM769 611h1v2h-1zM770 612h1v2h-1zM771 609h1v3h-1zM772 607h1v2h-1zM773 608h1v1h-1zM774 609h1v2h-1zM775 611h1v3h-1zM776 614h1v2h-1zM777 614h1v1h-1zM778 613h1v1h-1zM779 611h1v2h-1zM780 611h1v1h-1zM781 610h1v1h-1zM782 609h1v2h-1zM783 611h1v1h-1zM784 612h1v2h-1zM785 614h1v2h-1zM786 616h1v1h-1zM787 615h1v1h-1zM788 614h1v1h-1zM789 613h1v1h-1zM790 612h3v1h-3zM793 612h1v2h-1zM794 614h1v1h-1zM795 615h1v2h-1zM796 617h3v1h-3zM799 616h1v1h-1zM800 617h1v3h-1zM801 620h1v3h-1zM802 623h1v2h-1zM803 623h1v1h-1zM804 622h1v2h-1zM805 624h1v1h-1zM806 625h1v1h-1zM807 624h1v1h-1zM808 623h1v1h-1zM809 622h1v1h-1zM810 623h2v1h-2zM812 624h3v1h-3zM815 623h2v1h-2zM817 622h1v1h-1zM818 621h1v2h-1zM819 617h1v4h-1zM820 615h1v2h-1zM821 616h1v1h-1zM822 617h1v1h-1zM823 618h1v1h-1zM824 619h2v1h-2zM826 618h3v1h-3zM829 619h2v1h-2zM831 618h1v1h-1zM832 617h1v1h-1zM833 616h1v1h-1zM834 614h1v2h-1zM835 611h1v3h-1zM836 607h1v4h-1zM837 604h1v3h-1zM838 602h1v2h-1zM839 604h1v2h-1zM840 606h1v2h-1zM841 606h1v1h-1zM842 605h1v1h-1zM843 606h1v1h-1zM844 607h1v2h-1zM845 609h1v2h-1zM846 611h1v1h-1zM847 610h1v1h-1zM848 609h1v2h-1zM849 611h1v2h-1zM850 613h1v4h-1zM851 617h1v5h-1zM852 622h1v3h-1zM853 625h1v1h-1zM854 626h1v1h-1zM855 627h1v1h-1zM856 627h1v2h-1zM857 624h1v3h-1zM858 621h1v3h-1zM859 617h1v4h-1zM860 615h1v2h-1zM861 614h1v1h-1zM862 612h1v2h-1zM863 611h1v1h-1zM864 610h1v1h-1zM865 609h1v1h-1zM866 610h2v1h-2zM868 611h1v2h-1zM869 613h1v2h-1zM870 615h1v2h-1zM871 617h1v2h-1zM872 619h1v1h-1zM873 620h1v1h-1zM874 619h1v2h-1zM875 615h1v4h-1zM876 612h1v3h-1zM877 612h1v1h-1zM878 613h1v1h-1zM879 611h1v2h-1zM880 610h1v1h-1zM881 608h1v2h-1zM882 607h1v2h-1zM883 609h1v2h-1zM884 611h1v3h-1zM885 614h1v2h-1zM886 616h2v1h-2zM888 617h1v1h-1zM889 616h1v1h-1zM890 614h1v2h-1zM891 614h1v1h-1zM892 615h3v1h-3zM895 614h4v1h-4zM899 613h1v1h-1zM900 614h1v2h-1zM901 616h1v1h-1zM902 617h1v2h-1zM903 619h1v1h-1zM904 620h1v1h-1zM905 619h1v1h-1zM906 618h1v1h-1zM907 617h1v2h-1zM908 619h1v1h-1zM909 620h1v1h-1zM910 621h1v1h-1zM911 620h1v1h-1zM912 619h1v1h-1zM913 620h1v1h-1zM914 621h1v1h-1zM915 619h1v2h-1zM916 616h1v3h-1zM917 614h1v2h-1zM918 612h1v2h-1zM919 611h1v1h-1zM920 610h2v1h-2zM922 611h2v1h-2zM924 612h2v1h-2zM926 613h2v1h-2z" fill="#1e90ff" shape-rendering="crispEdges"/>
<g shape-rendering="crispEdges">
<path d="M1167 84.5H1169M1167 117.5H1169M1167 183.5H1169M1167 216.5H1169M1167 249.5H1169M1167 282.5H1169M1167 315.5H1169M1167 348.5H1169M1167 381.5H1169M1167 414.5H1169M1167 447.5H1169M1167 480.5H1169M1167 540.5H1169M1167 51.5H1169M1167 154.5H1169M1167 196.5H1169M1167 233.5H1169M1167 331.5H1169M1167 429.5H1169M1167 487.5H1168M1167 568.5H1168M1167 573.5H1168M1167 657.5H1168" stroke="#000" stroke-width="1" fill="none"/>
<path d="M4.5 659V662M68.5 659V662M132.5 659V662M196.5 659V662M260.5 659V662M324.5 659V662M388.5 659V662M452.5 659V662M516.5 659V662M580.5 659V662M644.5 659V662M708.5 659V662M772.5 659V662M836.5 659V662M900.5 659V662" stroke="#000" stroke-width="1" fill="none"/>
</g>
</svg>
<div id="axis">
<span class="t " style="left:1172.00px;top:146px;font-size:10px;line-height:10px;color:#000;transform:scaleX(0.9030);">0.91890</span>
<span class="t " style="left:1172.00px;top:80px;font-size:10px;line-height:10px;color:#000;transform:scaleX(0.9030);">0.92430</span>
<span class="t " style="left:1172.00px;top:113px;font-size:10px;line-height:10px;color:#000;transform:scaleX(0.9030);">0.92160</span>
<span class="t " style="left:1172.00px;top:179px;font-size:10px;line-height:10px;color:#000;transform:scaleX(0.9030);">0.91615</span>
<span class="t " style="left:1172.00px;top:212px;font-size:10px;line-height:10px;color:#000;transform:scaleX(0.9030);">0.91345</span>
<span class="t " style="left:1172.00px;top:245px;font-size:10px;line-height:10px;color:#000;transform:scaleX(0.9030);">0.91075</span>
<span class="t " style="left:1172.00px;top:278px;font-size:10px;line-height:10px;color:#000;transform:scaleX(0.9030);">0.90805</span>
<span class="t " style="left:1172.00px;top:311px;font-size:10px;line-height:10px;color:#000;transform:scaleX(0.9030);">0.90535</span>
<span class="t " style="left:1172.00px;top:344px;font-size:10px;line-height:10px;color:#000;transform:scaleX(0.9030);">0.90265</span>
<span class="t " style="left:1172.00px;top:377px;font-size:10px;line-height:10px;color:#000;transform:scaleX(0.9030);">0.89990</span>
<span class="t " style="left:1172.00px;top:410px;font-size:10px;line-height:10px;color:#000;transform:scaleX(0.9030);">0.89720</span>
<span class="t " style="left:1172.00px;top:443px;font-size:10px;line-height:10px;color:#000;transform:scaleX(0.9030);">0.89450</span>
<span class="t " style="left:1172.00px;top:476px;font-size:10px;line-height:10px;color:#000;transform:scaleX(0.9030);">0.89180</span>
<div class="b" style="left:1168px;top:45px;width:39px;height:11px;background:#ff0000;"></div>
<span class="t " style="left:1172.00px;top:46px;font-size:10px;line-height:10px;color:#fff;transform:scaleX(0.9030);">0.92699</span>
<div class="b" style="left:1168px;top:148px;width:39px;height:11px;background:#ff0000;"></div>
<span class="t " style="left:1172.00px;top:149px;font-size:10px;line-height:10px;color:#fff;transform:scaleX(0.9030);">0.91855</span>
<div class="b" style="left:1168px;top:191px;width:39px;height:11px;background:#000;"></div>
<span class="t " style="left:1172.00px;top:192px;font-size:10px;line-height:10px;color:#fff;transform:scaleX(0.9209);">0.91511</span>
<div class="b" style="left:1168px;top:227px;width:39px;height:11px;background:#00ff00;"></div>
<span class="t " style="left:1172.00px;top:228px;font-size:10px;line-height:10px;color:#fff;transform:scaleX(0.9030);">0.91208</span>
<div class="b" style="left:1168px;top:325px;width:39px;height:11px;background:#0000ff;"></div>
<span class="t " style="left:1172.00px;top:326px;font-size:10px;line-height:10px;color:#fff;transform:scaleX(0.9030);">0.90405</span>
<div class="b" style="left:1168px;top:423px;width:39px;height:11px;background:#0000ff;"></div>
<span class="t " style="left:1172.00px;top:424px;font-size:10px;line-height:10px;color:#fff;transform:scaleX(0.9030);">0.89602</span>
<span class="t " style="left:1170.30px;top:488px;font-size:10px;line-height:10px;color:#000;transform:scaleX(0.8969);">0.006451</span>
<span class="t " style="left:1170.30px;top:536px;font-size:10px;line-height:10px;color:#000;transform:scaleX(0.9026);">0.00</span>
<span class="t " style="left:1170.30px;top:559px;font-size:10px;line-height:10px;color:#000;transform:scaleX(0.9022);">-0.003507</span>
<span class="t " style="left:1170.60px;top:574px;font-size:10px;line-height:10px;color:#000;transform:scaleX(0.8144);">100</span>
<span class="t " style="left:1169.20px;top:594px;font-size:10px;line-height:10px;color:#000;transform:scaleX(0.8919);">70</span>
<span class="t " style="left:1169.20px;top:628px;font-size:10px;line-height:10px;color:#000;transform:scaleX(0.8919);">30</span>
<span class="t " style="left:1170.20px;top:647px;font-size:10px;line-height:10px;color:#000;transform:scaleX(0.8214);">0</span>
<span class="t " style="left:3.30px;top:663px;font-size:10px;line-height:10px;color:#000;transform:scaleX(0.9450);">21 May 2021</span>
<span class="t " style="left:67.30px;top:663px;font-size:10px;line-height:10px;color:#000;transform:scaleX(0.9450);">28 May 14:00</span>
<span class="t " style="left:131.30px;top:663px;font-size:10px;line-height:10px;color:#000;transform:scaleX(0.9450);">4 Jun 22:00</span>
<span class="t " style="left:195.30px;top:663px;font-size:10px;line-height:10px;color:#000;transform:scaleX(0.9450);">14 Jun 07:00</span>
<span class="t " style="left:259.30px;top:663px;font-size:10px;line-height:10px;color:#000;transform:scaleX(0.9450);">21 Jun 15:00</span>
<span class="t " style="left:323.30px;top:663px;font-size:10px;line-height:10px;color:#000;transform:scaleX(0.9450);">28 Jun 23:00</span>
<span class="t " style="left:387.30px;top:663px;font-size:10px;line-height:10px;color:#000;transform:scaleX(0.9450);">6 Jul 06:00</span>
<span class="t " style="left:451.30px;top:663px;font-size:10px;line-height:10px;color:#000;transform:scaleX(0.9450);">13 Jul 14:00</span>
<span class="t " style="left:515.30px;top:663px;font-size:10px;line-height:10px;color:#000;transform:scaleX(0.9450);">20 Jul 22:00</span>
<span class="t " style="left:579.30px;top:663px;font-size:10px;line-height:10px;color:#000;transform:scaleX(0.9450);">28 Jul 04:00</span>
<span class="t " style="left:643.30px;top:663px;font-size:10px;line-height:10px;color:#000;transform:scaleX(0.9450);">4 Aug 14:00</span>
<span class="t " style="left:707.30px;top:663px;font-size:10px;line-height:10px;color:#000;transform:scaleX(0.9450);">11 Aug 22:00</span>
<span class="t " style="left:771.30px;top:663px;font-size:10px;line-height:10px;color:#000;transform:scaleX(0.9450);">19 Aug 04:00</span>
<span class="t " style="left:835.30px;top:663px;font-size:10px;line-height:10px;color:#000;transform:scaleX(0.9450);">26 Aug 14:00</span>
<span class="t " style="left:899.30px;top:663px;font-size:10px;line-height:10px;color:#000;transform:scaleX(0.9450);">2 Sep 22:00</span>
<span class="t " style="left:19.60px;top:27px;font-size:10px;line-height:10px;color:#000;transform:scaleX(0.9626);">USDCHF,H4</span>
<span class="t " style="left:79.90px;top:27px;font-size:10px;line-height:10px;color:#000;transform:scaleX(0.9251);">0.91479 0.91528 0.91479 0.91511</span>
<span class="t " style="left:8.00px;top:490px;font-size:10px;line-height:10px;color:#000;transform:scaleX(0.9450);">MACD(12,26,9) 0.000063 -0.000161</span>
<span class="t " style="left:8.00px;top:576px;font-size:10px;line-height:10px;color:#000;transform:scaleX(0.9450);">RSI(14) 50.5958</span>
<svg width="1207" height="707" viewBox="0 0 1207 707"><path d="M7 34.2 L10.5 29.8 L14 34.2 Z" fill="#000"/></svg>
</div>
<div id="trade">
<div class="b" style="left:5px;top:41px;width:223px;height:61px;background:#fff;"></div>
<div class="b" style="left:7px;top:43px;width:52px;height:25px;background:linear-gradient(#fb5050 0%,#ea3a3a 30%,#d92424 45%,#c81212 70%,#b00000 100%);background-size:100% 57px;background-position:0 0px;background-repeat:no-repeat;box-sizing:border-box;border:1px solid #c20a0a;border-bottom:none;"></div>
<div class="b" style="left:174px;top:43px;width:52px;height:25px;background:linear-gradient(#fb5050 0%,#ea3a3a 30%,#d92424 45%,#c81212 70%,#b00000 100%);background-size:100% 57px;background-position:0 0px;background-repeat:no-repeat;box-sizing:border-box;border:1px solid #c20a0a;border-bottom:none;"></div>
<div class="b" style="left:7px;top:67px;width:109px;height:33px;background:linear-gradient(#fb5050 0%,#ea3a3a 30%,#d92424 45%,#c81212 70%,#b00000 100%);background-size:100% 57px;background-position:0 -24px;background-repeat:no-repeat;box-sizing:border-box;border:1px solid #c20a0a;border-top:none;"></div>
<div class="b" style="left:118px;top:67px;width:108px;height:33px;background:linear-gradient(#fb5050 0%,#ea3a3a 30%,#d92424 45%,#c81212 70%,#b00000 100%);background-size:100% 57px;background-position:0 -24px;background-repeat:no-repeat;box-sizing:border-box;border:1px solid #c20a0a;border-top:none;"></div>
<div class="b" style="left:59px;top:67px;width:57px;height:1px;background:#c20a0a;"></div>
<div class="b" style="left:118px;top:67px;width:56px;height:1px;background:#c20a0a;"></div>
<div class="b" style="left:8px;top:44px;width:50px;height:1px;background:rgba(255,255,255,0.18);"></div>
<div class="b" style="left:175px;top:44px;width:50px;height:1px;background:rgba(255,255,255,0.18);"></div>
<div class="b" style="left:11px;top:66px;width:44px;height:1px;background:#7c0505;"></div>
<div class="b" style="left:11px;top:67px;width:44px;height:1px;background:#ff7474;"></div>
<div class="b" style="left:178px;top:66px;width:44px;height:1px;background:#7c0505;"></div>
<div class="b" style="left:178px;top:67px;width:44px;height:1px;background:#ff7474;"></div>
<div class="b" style="left:61px;top:43px;width:111px;height:22px;background:#fff;box-sizing:border-box;border:1px solid #a3a5ad;"></div>
<div class="b" style="left:63px;top:45px;width:18px;height:18px;background:linear-gradient(#f3f3f3 0%,#ebebeb 36%,#dddddd 37%,#cfcfcf 100%);"></div>
<div class="b" style="left:82px;top:44px;width:1px;height:20px;background:#a3a5ad;"></div>
<div class="b" style="left:150px;top:44px;width:1px;height:20px;background:#a3a5ad;"></div>
<div class="b" style="left:152px;top:45px;width:18px;height:18px;background:linear-gradient(#f3f3f3 0%,#ebebeb 36%,#dddddd 37%,#cfcfcf 100%);"></div>
<svg width="1207" height="707" viewBox="0 0 1207 707" shape-rendering="crispEdges"><path d="M69 52h5v1h-1v1h-1v1h-1v-1h-1v-1h-1z" fill="#4a62c8"/><path d="M160 52h1v1h1v1h1v1h-5v-1h1v-1h1z" fill="#4a62c8"/></svg>
<span class="t " style="left:123.40px;top:48px;font-size:12px;line-height:12px;color:#000;transform:scaleX(1.0000);">3.00</span>
<span class="t " style="left:19.40px;top:49px;font-size:12.5px;line-height:12.5px;color:#ffeaea;transform:scaleX(0.8261);">SELL</span>
<span class="t " style="left:187.50px;top:49px;font-size:12.5px;line-height:12.5px;color:#ffeaea;transform:scaleX(0.9087);">BUY</span>
<span class="t " style="left:26.80px;top:85px;font-size:12px;line-height:12px;color:#fff;font-weight:bold;transform:scaleX(1.0214);">0.91</span>
<span class="t " style="left:136.80px;top:85px;font-size:12px;line-height:12px;color:#fff;font-weight:bold;transform:scaleX(1.0214);">0.91</span>
<span class="t big" style="left:56.00px;top:66px;font-size:34.5px;line-height:34.5px;color:#fff;transform:scaleX(0.8513);">51</span>
<span class="t big" style="left:166.70px;top:66px;font-size:34.5px;line-height:34.5px;color:#fff;transform:scaleX(0.8565);">52</span>
<span class="t " style="left:93.90px;top:69px;font-size:12px;line-height:12px;color:#fff;font-weight:bold;transform:scaleX(1.0417);">4</span>
<span class="t " style="left:204.90px;top:69px;font-size:12px;line-height:12px;color:#fff;font-weight:bold;transform:scaleX(1.0417);">8</span>
</div>
<div id="tabs">
<div class="b" style="left:0px;top:679px;width:1207px;height:1px;background:#ececec;"></div>
<div class="b" style="left:0px;top:681px;width:1207px;height:1px;background:#000;"></div>
<div class="b" style="left:0px;top:682px;width:1207px;height:1px;background:#fafafa;"></div>
<div class="b" style="left:0px;top:683px;width:1207px;height:18px;background:#f0f0f0;"></div>
<div class="b" style="left:0px;top:682px;width:1px;height:18px;background:#5a5a5a;"></div>
<div class="b" style="left:0px;top:701px;width:1207px;height:1px;background:#f8f8f8;"></div>
<div class="b" style="left:0px;top:702px;width:1207px;height:1px;background:#fcfcfc;"></div>
<div class="b" style="left:0px;top:703px;width:1207px;height:1px;background:#f0f0f0;"></div>
<div class="b" style="left:0px;top:704px;width:1207px;height:1px;background:#dcdcdc;"></div>
<div class="b" style="left:0px;top:705px;width:1207px;height:1px;background:#a0a0a0;"></div>
<div class="b" style="left:0px;top:706px;width:1207px;height:1px;background:#f4f4f4;"></div>
<div class="b" style="left:203px;top:683px;width:87px;height:18px;background:#a8a8a8;"></div>
<div class="b" style="left:201px;top:680px;width:88px;height:20px;background:#fff;box-sizing:border-box;border:1px solid #000;border-top:none;"></div>
<div class="b" style="left:202px;top:679px;width:86px;height:3px;background:#fff;"></div>
<div class="b" style="left:202px;top:679px;width:86px;height:1px;background:#ececec;"></div>
<span class="t " style="left:18.00px;top:686px;font-size:12px;line-height:12px;color:#6e6e6e;transform:scaleX(0.9660);">EURUSD,H4</span>
<span class="t " style="left:108.00px;top:686px;font-size:12px;line-height:12px;color:#6e6e6e;transform:scaleX(1.0169);">AUDUSD,Daily</span>
<span class="t " style="left:211.40px;top:686px;font-size:12px;line-height:12px;color:#000;transform:scaleX(0.9893);">USDCHF,H4</span>
<span class="t " style="left:300.00px;top:686px;font-size:12px;line-height:12px;color:#6e6e6e;transform:scaleX(1.0045);">USDCAD,Daily</span>
<span class="t " style="left:403.30px;top:686px;font-size:12px;line-height:12px;color:#6e6e6e;transform:scaleX(1.0189);">USDCNH,Daily</span>
<span class="t " style="left:509.40px;top:686px;font-size:12px;line-height:12px;color:#6e6e6e;transform:scaleX(1.0252);">UKOil,H1</span>
<span class="t " style="left:583.30px;top:686px;font-size:12px;line-height:12px;color:#6e6e6e;transform:scaleX(0.9854);">DJ30,H1</span>
<span class="t " style="left:653.50px;top:686px;font-size:12px;line-height:12px;color:#6e6e6e;transform:scaleX(0.9758);">USDX,H1</span>
<span class="t " style="left:728.10px;top:686px;font-size:12px;line-height:12px;color:#6e6e6e;transform:scaleX(0.9994);">XAUUSD,H4</span>
<span class="t " style="left:821.20px;top:686px;font-size:12px;line-height:12px;color:#6e6e6e;transform:scaleX(0.9732);">GBPUSD,H1</span>
<div class="b" style="left:97px;top:685px;width:1px;height:13px;background:#6a6a6a;"></div>
<div class="b" style="left:393px;top:685px;width:1px;height:13px;background:#6a6a6a;"></div>
<div class="b" style="left:497px;top:685px;width:1px;height:13px;background:#6a6a6a;"></div>
<div class="b" style="left:573px;top:685px;width:1px;height:13px;background:#6a6a6a;"></div>
<div class="b" style="left:641px;top:685px;width:1px;height:13px;background:#6a6a6a;"></div>
<div class="b" style="left:717px;top:685px;width:1px;height:13px;background:#6a6a6a;"></div>
<div class="b" style="left:809px;top:685px;width:1px;height:13px;background:#6a6a6a;"></div>
<div class="b" style="left:901px;top:685px;width:1px;height:13px;background:#6a6a6a;"></div>
<svg width="1207" height="707" viewBox="0 0 1207 707" style="pointer-events:none"><path d="M1185 686.5 L1181 690 L1185 693.5 Z" fill="#8c8c8c"/><path d="M1200.5 686.5 L1204.5 690 L1200.5 693.5 Z" fill="#8c8c8c"/></svg>
</div>
</body></html>
